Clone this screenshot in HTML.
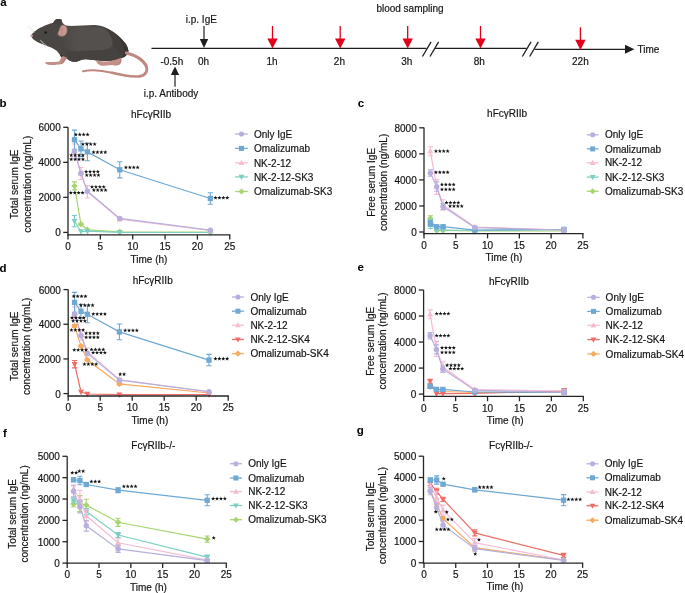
<!DOCTYPE html><html><head><meta charset="utf-8"><style>html,body{margin:0;padding:0;background:#fff;width:685px;height:593px;overflow:hidden}text{font-family:"Liberation Sans", sans-serif}</style></head><body><svg width="685" height="593" viewBox="0 0 685 593" style="display:block;will-change:transform">
<g font-family='"Liberation Sans", sans-serif'>
<path d="M31.2,35.6 C32.5,32.5 38,28.5 45,25.6 C49,24 52,23 54.5,22.6 C54.3,21 55,19.2 57.5,19 C60,18.8 62,19.5 62,21.5 C62.5,23 64,25 67,25.8 C74,26.2 86,25.2 94,25 C102,25.2 110,28.5 118,35.5 C123,40 127.8,45.5 128.4,50.4 C128.6,53.5 126,56 122.4,57.5 C119,59.5 115,60.2 110,60.8 C104,61.3 100,60.5 96.7,60.4 C92,60 88,59 85,59.3 C80,59.8 78,61.8 75.7,61.8 C72,61.8 70,61 68,59.5 C66,58.5 64.5,57.8 62.5,56.8 C60.5,55.8 59,53.5 56.4,50.5 C52,47 45,45.5 38.2,42.4 C34,40.5 31.5,38.5 31.2,35.6Z" fill="#4a4643"/>
<path d="M104,27.5 C112,30 120,37 126,44 C129,49 128.5,54 124,57 C119,60 112,60.8 106,60.6 C100,60 95,58.8 90,58.6 C96,56.5 108,52.5 111.5,49 C113.5,44 113,36 104,27.5Z" fill="#433e3b"/>
<path d="M116,34 C122,39 127.8,45.5 128.4,50.4 C128.6,53.5 126.8,55.6 123,57.8 C125,53 124.5,45 116,34Z" fill="#3a3633"/>
<defs><linearGradient id="lg" x1="0" x2="1" y1="0" y2="0"><stop offset="0" stop-color="#54504d" stop-opacity="0"/><stop offset="0.35" stop-color="#54504d" stop-opacity="1"/></linearGradient></defs>
<path d="M62,27 C80,26.2 96,26 104,28.5 C110,33 113.5,40 112.5,46 C110.5,50.5 104,50.5 96,50.2 C88,50.4 80,51.5 72,51.5 C66,50 62,44 60,36 C59.5,31 60,28 62,27Z" fill="url(#lg)"/>
<path d="M67,51 C76,50.8 88,51.3 97,50.6 C104,50 110,49.5 113.5,45 C116,48 118,53 122.4,57.5 C119,59.5 115,60.2 110,60.8 C104,61.3 100,60.5 96.7,60.4 C92,60 88,59 85,59.3 C80,59.8 78,61.8 75.7,61.8 C72,61.8 70,61 68,59.5 C66.5,56 66.5,53 67,51Z" fill="#46423f"/>
<path d="M60.5,54.5 C62,55.5 64,56.5 65.5,57.6 L63.8,58.6 C62.5,58 61,57 60,55.8Z" fill="#2f2b29"/>
<path d="M52.8,23.2 C54,21 55,19.3 57,19 C59,18.8 61.5,19 61.8,20 C62,21.2 61.2,22.2 60.6,23.2 C60,24 59.5,24.6 58.5,25 Z" fill="#45413f"/>
<path d="M63.2,24.7 C65.7,25 67.5,27 67.4,29.8 C67.3,32.6 66.6,35 64,36.2 C61.5,37.2 58.3,36.2 57.6,34.3 C57.2,32.6 58.9,31 59.3,29.2 C59.7,27 60.9,24.8 63.2,24.7Z" fill="#a97b74"/>
<path d="M63.4,25.4 C65.4,25.8 66.8,27.5 66.7,29.9 C66.6,32.4 66,34.4 63.8,35.4 C61.8,36.2 59.2,35.5 58.6,34 C58.4,32.6 59.8,31.2 60.2,29.5 C60.6,27.4 61.5,25.4 63.4,25.4Z" fill="#c4978f"/>
<path d="M62.2,28 C61.8,30 61.5,32 61.8,33.5" stroke="#a67770" stroke-width="0.5" fill="none"/>
<circle cx="45.7" cy="32.6" r="1.4" fill="#1f1c1b"/>
<circle cx="31.6" cy="35.8" r="1.3" fill="#d0a09a"/>
<path d="M34,33 L27,26.5 M34.5,32.5 L29,25 M40,40 L47,46 M41,40.5 L46,48" stroke="#d9d6d4" stroke-width="0.5" fill="none"/>
<path d="M63.5,56.5 L67.5,57.8 L63.5,63 C62,64.5 59.5,64.6 57.5,64.2 L60,62 Z" fill="#b7857d"/>
<path d="M58.5,54.5 L62.5,56 L59,61.6 C56,62.1 52,62 48,62.1 C46,62.1 44.8,62.6 45.4,63.5 C47,64.6 50,65.2 53,65.1 C56,65 59,64.6 60.8,63 L65,57 Z" fill="#c39087"/>
<path d="M112.5,60.5 C115.5,60 118.5,59 120.8,57.8 C122,59.5 122,62 120,64.2 C118.5,65.5 115.5,65.8 113,65.2 Z" fill="#b7857d"/>
<path d="M96.5,60.5 C99,61 103,61.5 106,61.6 C110,61.3 115,60.8 119.5,59 L120.3,61 C119.5,63.5 117,64.8 113,65 C109,65.3 104,65.6 101.5,65.8 C99.5,65.5 98,64 97,62.8 C96.5,62 96.2,61.2 96.5,60.5Z" fill="#c39087"/>
<path d="M126.5,53 C134,55 142.5,59.5 145.8,65" stroke="#bf8880" stroke-width="3.2" fill="none" stroke-linecap="round"/>
<path d="M145.8,65 C148.2,70 146.3,75 140,76.2" stroke="#bf8880" stroke-width="2.8" fill="none" stroke-linecap="round"/>
<path d="M140,76.2 C132,77.2 122,75.3 112,72.8" stroke="#bf8880" stroke-width="2.5" fill="none" stroke-linecap="round"/>
<path d="M112,72.8 C102,70.3 92,69.3 83,71.3" stroke="#bf8880" stroke-width="2" fill="none" stroke-linecap="round"/>
<path d="M151.5,48.3 H426.5" stroke="#1e1e1e" stroke-width="1.3"/>
<path d="M435.0,48.3 H526.5" stroke="#1e1e1e" stroke-width="1.3"/>
<path d="M534.7,49.3 H626" stroke="#1e1e1e" stroke-width="1.3"/>
<path d="M625.0,44.8 L634.4,49.2 L625.0,53.7Z" fill="#1e1e1e"/>
<path d="M422.5,56.5 L431.1,41.8" stroke="#1e1e1e" stroke-width="1.3"/>
<path d="M430.0,56.5 L438.6,41.8" stroke="#1e1e1e" stroke-width="1.3"/>
<path d="M522.4,56.5 L531.0,41.8" stroke="#1e1e1e" stroke-width="1.3"/>
<path d="M529.7,56.5 L538.3000000000001,41.8" stroke="#1e1e1e" stroke-width="1.3"/>
<path d="M204,26 V40" stroke="#1e1e1e" stroke-width="1.2"/>
<path d="M199.8,39 L208.2,39 L204,48Z" fill="#1e1e1e"/>
<path d="M175,86.8 V74" stroke="#1e1e1e" stroke-width="1.2"/>
<path d="M170.8,75 L179.2,75 L175,66.5Z" fill="#1e1e1e"/>
<path d="M272.5,26 V40" stroke="#e3001b" stroke-width="1.3"/>
<path d="M267.3,38.4 L277.7,38.4 L272.5,48.6Z" fill="#e3001b"/>
<path d="M340.2,26 V40" stroke="#e3001b" stroke-width="1.3"/>
<path d="M335.0,38.4 L345.4,38.4 L340.2,48.6Z" fill="#e3001b"/>
<path d="M407.7,26 V40" stroke="#e3001b" stroke-width="1.3"/>
<path d="M402.5,38.4 L412.9,38.4 L407.7,48.6Z" fill="#e3001b"/>
<path d="M480.5,26 V40" stroke="#e3001b" stroke-width="1.3"/>
<path d="M475.3,38.4 L485.7,38.4 L480.5,48.6Z" fill="#e3001b"/>
<path d="M580.4,27.3 V41.3" stroke="#e3001b" stroke-width="1.3"/>
<path d="M575.1999999999999,39.699999999999996 L585.6,39.699999999999996 L580.4,49.9Z" fill="#e3001b"/>
<text transform="translate(201.30,23.00) scale(1,1.0)" font-size="10" text-anchor="middle" font-weight="normal" fill="#141414" stroke="#141414" stroke-width="0.18">i.p. IgE</text>
<text transform="translate(171.00,96.80) scale(1,1.0)" font-size="10" text-anchor="middle" font-weight="normal" fill="#141414" stroke="#141414" stroke-width="0.18">i.p. Antibody</text>
<text transform="translate(410.00,12.30) scale(1,1.0)" font-size="10" text-anchor="middle" font-weight="normal" fill="#141414" stroke="#141414" stroke-width="0.18">blood sampling</text>
<text transform="translate(648.50,52.80) scale(1,1.0)" font-size="10" text-anchor="middle" font-weight="normal" fill="#141414" stroke="#141414" stroke-width="0.18">Time</text>
<text transform="translate(171.80,65.20) scale(1,1.0)" font-size="10" text-anchor="middle" font-weight="normal" fill="#141414" stroke="#141414" stroke-width="0.18">-0.5h</text>
<text transform="translate(203.60,65.20) scale(1,1.0)" font-size="10" text-anchor="middle" font-weight="normal" fill="#141414" stroke="#141414" stroke-width="0.18">0h</text>
<text transform="translate(272.00,65.20) scale(1,1.0)" font-size="10" text-anchor="middle" font-weight="normal" fill="#141414" stroke="#141414" stroke-width="0.18">1h</text>
<text transform="translate(339.40,65.20) scale(1,1.0)" font-size="10" text-anchor="middle" font-weight="normal" fill="#141414" stroke="#141414" stroke-width="0.18">2h</text>
<text transform="translate(406.80,65.20) scale(1,1.0)" font-size="10" text-anchor="middle" font-weight="normal" fill="#141414" stroke="#141414" stroke-width="0.18">3h</text>
<text transform="translate(479.30,65.20) scale(1,1.0)" font-size="10" text-anchor="middle" font-weight="normal" fill="#141414" stroke="#141414" stroke-width="0.18">8h</text>
<text transform="translate(580.40,65.20) scale(1,1.0)" font-size="10" text-anchor="middle" font-weight="normal" fill="#141414" stroke="#141414" stroke-width="0.18">22h</text>
<text transform="translate(0.30,6.40) scale(1,1.0)" font-size="11.5" text-anchor="start" font-weight="bold" fill="#000" >a</text>
<path d="M74.47,185.90 L80.94,224.30 L87.41,229.80 L119.76,231.80 L210.34,232.20" fill="none" stroke="#a8d470" stroke-width="1.2"/>
<path d="M74.47,181.90 V189.90 M71.87,181.90 H77.07 M71.87,189.90 H77.07" stroke="#a8d470" stroke-width="1.1" fill="none"/>
<path d="M80.94,223.30 V225.30 M78.34,223.30 H83.54 M78.34,225.30 H83.54" stroke="#a8d470" stroke-width="1.1" fill="none"/>
<path d="M74.47,182.70 L77.67,185.90 L74.47,189.10 L71.27,185.90Z" fill="#a8d470"/>
<path d="M80.94,221.10 L84.14,224.30 L80.94,227.50 L77.74,224.30Z" fill="#a8d470"/>
<path d="M87.41,226.60 L90.61,229.80 L87.41,233.00 L84.21,229.80Z" fill="#a8d470"/>
<path d="M119.76,228.60 L122.96,231.80 L119.76,235.00 L116.56,231.80Z" fill="#a8d470"/>
<path d="M210.34,229.00 L213.54,232.20 L210.34,235.40 L207.14,232.20Z" fill="#a8d470"/>
<path d="M74.47,221.10 L80.94,231.50 L87.41,231.20 L119.76,232.30 L210.34,232.50" fill="none" stroke="#7ecfc3" stroke-width="1.2"/>
<path d="M74.47,215.50 V226.70 M71.87,215.50 H77.07 M71.87,226.70 H77.07" stroke="#7ecfc3" stroke-width="1.1" fill="none"/>
<path d="M74.47,224.30 L77.47,218.90 L71.47,218.90Z" fill="#7ecfc3"/>
<path d="M80.94,234.70 L83.94,229.30 L77.94,229.30Z" fill="#7ecfc3"/>
<path d="M87.41,234.40 L90.41,229.00 L84.41,229.00Z" fill="#7ecfc3"/>
<path d="M119.76,235.50 L122.76,230.10 L116.76,230.10Z" fill="#7ecfc3"/>
<path d="M210.34,235.70 L213.34,230.30 L207.34,230.30Z" fill="#7ecfc3"/>
<path d="M74.47,150.50 L80.94,173.50 L87.41,191.80 L119.76,219.20 L210.34,230.50" fill="none" stroke="#f5bcd5" stroke-width="1.2"/>
<path d="M74.47,144.00 V157.00 M71.87,144.00 H77.07 M71.87,157.00 H77.07" stroke="#f5bcd5" stroke-width="1.1" fill="none"/>
<path d="M80.94,167.50 V179.50 M78.34,167.50 H83.54 M78.34,179.50 H83.54" stroke="#f5bcd5" stroke-width="1.1" fill="none"/>
<path d="M87.41,185.60 V198.00 M84.81,185.60 H90.01 M84.81,198.00 H90.01" stroke="#f5bcd5" stroke-width="1.1" fill="none"/>
<path d="M119.76,217.70 V220.70 M117.16,217.70 H122.36 M117.16,220.70 H122.36" stroke="#f5bcd5" stroke-width="1.1" fill="none"/>
<path d="M210.34,229.50 V231.50 M207.74,229.50 H212.94 M207.74,231.50 H212.94" stroke="#f5bcd5" stroke-width="1.1" fill="none"/>
<path d="M74.47,147.30 L77.47,152.70 L71.47,152.70Z" fill="#f5bcd5"/>
<path d="M80.94,170.30 L83.94,175.70 L77.94,175.70Z" fill="#f5bcd5"/>
<path d="M87.41,188.60 L90.41,194.00 L84.41,194.00Z" fill="#f5bcd5"/>
<path d="M119.76,216.00 L122.76,221.40 L116.76,221.40Z" fill="#f5bcd5"/>
<path d="M210.34,227.30 L213.34,232.70 L207.34,232.70Z" fill="#f5bcd5"/>
<path d="M74.47,139.70 L80.94,148.80 L87.41,151.90 L119.76,169.80 L210.34,198.50" fill="none" stroke="#6fa8d3" stroke-width="1.2"/>
<path d="M74.47,130.10 V149.30 M71.87,130.10 H77.07 M71.87,149.30 H77.07" stroke="#6fa8d3" stroke-width="1.1" fill="none"/>
<path d="M80.94,141.00 V156.60 M78.34,141.00 H83.54 M78.34,156.60 H83.54" stroke="#6fa8d3" stroke-width="1.1" fill="none"/>
<path d="M87.41,143.10 V160.70 M84.81,143.10 H90.01 M84.81,160.70 H90.01" stroke="#6fa8d3" stroke-width="1.1" fill="none"/>
<path d="M119.76,161.70 V177.90 M117.16,161.70 H122.36 M117.16,177.90 H122.36" stroke="#6fa8d3" stroke-width="1.1" fill="none"/>
<path d="M210.34,192.70 V204.30 M207.74,192.70 H212.94 M207.74,204.30 H212.94" stroke="#6fa8d3" stroke-width="1.1" fill="none"/>
<rect x="71.82" y="137.05" width="5.30" height="5.30" fill="#6fa8d3"/>
<rect x="78.29" y="146.15" width="5.30" height="5.30" fill="#6fa8d3"/>
<rect x="84.76" y="149.25" width="5.30" height="5.30" fill="#6fa8d3"/>
<rect x="117.11" y="167.15" width="5.30" height="5.30" fill="#6fa8d3"/>
<rect x="207.69" y="195.85" width="5.30" height="5.30" fill="#6fa8d3"/>
<path d="M74.47,151.40 L80.94,173.30 L87.41,191.30 L119.76,218.40 L210.34,230.20" fill="none" stroke="#b8b0dc" stroke-width="1.2"/>
<path d="M74.47,150.40 V152.40 M71.87,150.40 H77.07 M71.87,152.40 H77.07" stroke="#b8b0dc" stroke-width="1.1" fill="none"/>
<path d="M80.94,172.30 V174.30 M78.34,172.30 H83.54 M78.34,174.30 H83.54" stroke="#b8b0dc" stroke-width="1.1" fill="none"/>
<path d="M87.41,190.30 V192.30 M84.81,190.30 H90.01 M84.81,192.30 H90.01" stroke="#b8b0dc" stroke-width="1.1" fill="none"/>
<circle cx="74.47" cy="151.40" r="2.70" fill="#b8b0dc"/>
<circle cx="80.94" cy="173.30" r="2.70" fill="#b8b0dc"/>
<circle cx="87.41" cy="191.30" r="2.70" fill="#b8b0dc"/>
<circle cx="119.76" cy="218.40" r="2.70" fill="#b8b0dc"/>
<circle cx="210.34" cy="230.20" r="2.70" fill="#b8b0dc"/>
<path d="M68.00,127.30 V235.40" stroke="#262626" stroke-width="1.3" fill="none"/>
<path d="M67.40,234.80 H230.35" stroke="#262626" stroke-width="1.3" fill="none"/>
<path d="M63.20,232.40 H68.00" stroke="#262626" stroke-width="1.3"/>
<text transform="translate(60.70,236.30) scale(1,1.0)" font-size="10" text-anchor="end" font-weight="normal" fill="#141414" stroke="#141414" stroke-width="0.18">0</text>
<path d="M63.20,197.37 H68.00" stroke="#262626" stroke-width="1.3"/>
<text transform="translate(60.70,201.27) scale(1,1.0)" font-size="10" text-anchor="end" font-weight="normal" fill="#141414" stroke="#141414" stroke-width="0.18">2000</text>
<path d="M63.20,162.33 H68.00" stroke="#262626" stroke-width="1.3"/>
<text transform="translate(60.70,166.23) scale(1,1.0)" font-size="10" text-anchor="end" font-weight="normal" fill="#141414" stroke="#141414" stroke-width="0.18">4000</text>
<path d="M63.20,127.30 H68.00" stroke="#262626" stroke-width="1.3"/>
<text transform="translate(60.70,131.20) scale(1,1.0)" font-size="10" text-anchor="end" font-weight="normal" fill="#141414" stroke="#141414" stroke-width="0.18">6000</text>
<path d="M68.00,234.80 V239.60" stroke="#262626" stroke-width="1.3"/>
<text transform="translate(68.00,249.60) scale(1,1.0)" font-size="10" text-anchor="middle" font-weight="normal" fill="#141414" stroke="#141414" stroke-width="0.18">0</text>
<path d="M100.35,234.80 V239.60" stroke="#262626" stroke-width="1.3"/>
<text transform="translate(100.35,249.60) scale(1,1.0)" font-size="10" text-anchor="middle" font-weight="normal" fill="#141414" stroke="#141414" stroke-width="0.18">5</text>
<path d="M132.70,234.80 V239.60" stroke="#262626" stroke-width="1.3"/>
<text transform="translate(132.70,249.60) scale(1,1.0)" font-size="10" text-anchor="middle" font-weight="normal" fill="#141414" stroke="#141414" stroke-width="0.18">10</text>
<path d="M165.05,234.80 V239.60" stroke="#262626" stroke-width="1.3"/>
<text transform="translate(165.05,249.60) scale(1,1.0)" font-size="10" text-anchor="middle" font-weight="normal" fill="#141414" stroke="#141414" stroke-width="0.18">15</text>
<path d="M197.40,234.80 V239.60" stroke="#262626" stroke-width="1.3"/>
<text transform="translate(197.40,249.60) scale(1,1.0)" font-size="10" text-anchor="middle" font-weight="normal" fill="#141414" stroke="#141414" stroke-width="0.18">20</text>
<path d="M229.75,234.80 V239.60" stroke="#262626" stroke-width="1.3"/>
<text transform="translate(229.75,249.60) scale(1,1.0)" font-size="10" text-anchor="middle" font-weight="normal" fill="#141414" stroke="#141414" stroke-width="0.18">25</text>
<text transform="translate(149.00,262.80) scale(1,1.0)" font-size="10" text-anchor="middle" font-weight="normal" fill="#141414" stroke="#141414" stroke-width="0.18">Time (h)</text>
<text transform="translate(151.00,118.10) scale(1,1.0)" font-size="10" text-anchor="middle" font-weight="normal" fill="#141414" stroke="#141414" stroke-width="0.18">hFcγRIIb</text>
<text transform="translate(17.90,184.20) rotate(-90) scale(1,1.0)" font-size="10" text-anchor="middle" fill="#141414" stroke="#141414" stroke-width="0.18">Total serum IgE</text>
<text transform="translate(30.70,184.20) rotate(-90) scale(1,1.0)" font-size="10" text-anchor="middle" fill="#141414" stroke="#141414" stroke-width="0.18">concentration (ng/mL)</text>
<path d="M235.20,134.00 H247.80" stroke="#b8b0dc" stroke-width="1.3"/>
<circle cx="241.50" cy="134.00" r="2.56" fill="#b8b0dc"/>
<text transform="translate(253.90,137.60) scale(1,1.0)" font-size="10" text-anchor="start" font-weight="normal" fill="#141414" stroke="#141414" stroke-width="0.18">Only IgE</text>
<path d="M235.20,148.40 H247.80" stroke="#6fa8d3" stroke-width="1.3"/>
<rect x="238.98" y="145.88" width="5.03" height="5.03" fill="#6fa8d3"/>
<text transform="translate(253.90,152.00) scale(1,1.0)" font-size="10" text-anchor="start" font-weight="normal" fill="#141414" stroke="#141414" stroke-width="0.18">Omalizumab</text>
<path d="M235.20,162.90 H247.80" stroke="#f5bcd5" stroke-width="1.3"/>
<path d="M241.50,159.86 L244.35,164.99 L238.65,164.99Z" fill="#f5bcd5"/>
<text transform="translate(253.90,166.50) scale(1,1.0)" font-size="10" text-anchor="start" font-weight="normal" fill="#141414" stroke="#141414" stroke-width="0.18">NK-2-12</text>
<path d="M235.20,176.90 H247.80" stroke="#7ecfc3" stroke-width="1.3"/>
<path d="M241.50,179.94 L244.35,174.81 L238.65,174.81Z" fill="#7ecfc3"/>
<text transform="translate(253.90,180.50) scale(1,1.0)" font-size="10" text-anchor="start" font-weight="normal" fill="#141414" stroke="#141414" stroke-width="0.18">NK-2-12-SK3</text>
<path d="M235.20,191.50 H247.80" stroke="#a8d470" stroke-width="1.3"/>
<path d="M241.50,188.46 L244.54,191.50 L241.50,194.54 L238.46,191.50Z" fill="#a8d470"/>
<text transform="translate(253.90,195.10) scale(1,1.0)" font-size="10" text-anchor="start" font-weight="normal" fill="#141414" stroke="#141414" stroke-width="0.18">Omalizumab-SK3</text>
<path d="M75.85,132.40 L76.39,133.81 L77.89,133.89 L76.72,134.83 L77.11,136.29 L75.85,135.47 L74.59,136.29 L74.98,134.83 L73.81,133.89 L75.31,133.81Z" fill="#111"/>
<path d="M79.75,132.40 L80.29,133.81 L81.79,133.89 L80.62,134.83 L81.01,136.29 L79.75,135.47 L78.49,136.29 L78.88,134.83 L77.71,133.89 L79.21,133.81Z" fill="#111"/>
<path d="M83.65,132.40 L84.19,133.81 L85.69,133.89 L84.52,134.83 L84.91,136.29 L83.65,135.47 L82.39,136.29 L82.78,134.83 L81.61,133.89 L83.11,133.81Z" fill="#111"/>
<path d="M87.55,132.40 L88.09,133.81 L89.59,133.89 L88.42,134.83 L88.81,136.29 L87.55,135.47 L86.29,136.29 L86.68,134.83 L85.51,133.89 L87.01,133.81Z" fill="#111"/>
<path d="M82.95,142.00 L83.49,143.41 L84.99,143.49 L83.82,144.43 L84.21,145.89 L82.95,145.07 L81.69,145.89 L82.08,144.43 L80.91,143.49 L82.41,143.41Z" fill="#111"/>
<path d="M86.85,142.00 L87.39,143.41 L88.89,143.49 L87.72,144.43 L88.11,145.89 L86.85,145.07 L85.59,145.89 L85.98,144.43 L84.81,143.49 L86.31,143.41Z" fill="#111"/>
<path d="M90.75,142.00 L91.29,143.41 L92.79,143.49 L91.62,144.43 L92.01,145.89 L90.75,145.07 L89.49,145.89 L89.88,144.43 L88.71,143.49 L90.21,143.41Z" fill="#111"/>
<path d="M94.65,142.00 L95.19,143.41 L96.69,143.49 L95.52,144.43 L95.91,145.89 L94.65,145.07 L93.39,145.89 L93.78,144.43 L92.61,143.49 L94.11,143.41Z" fill="#111"/>
<path d="M93.55,150.10 L94.09,151.51 L95.59,151.59 L94.42,152.53 L94.81,153.99 L93.55,153.17 L92.29,153.99 L92.68,152.53 L91.51,151.59 L93.01,151.51Z" fill="#111"/>
<path d="M97.45,150.10 L97.99,151.51 L99.49,151.59 L98.32,152.53 L98.71,153.99 L97.45,153.17 L96.19,153.99 L96.58,152.53 L95.41,151.59 L96.91,151.51Z" fill="#111"/>
<path d="M101.35,150.10 L101.89,151.51 L103.39,151.59 L102.22,152.53 L102.61,153.99 L101.35,153.17 L100.09,153.99 L100.48,152.53 L99.31,151.59 L100.81,151.51Z" fill="#111"/>
<path d="M105.25,150.10 L105.79,151.51 L107.29,151.59 L106.12,152.53 L106.51,153.99 L105.25,153.17 L103.99,153.99 L104.38,152.53 L103.21,151.59 L104.71,151.51Z" fill="#111"/>
<path d="M125.95,165.30 L126.49,166.71 L127.99,166.79 L126.82,167.73 L127.21,169.19 L125.95,168.37 L124.69,169.19 L125.08,167.73 L123.91,166.79 L125.41,166.71Z" fill="#111"/>
<path d="M129.85,165.30 L130.39,166.71 L131.89,166.79 L130.72,167.73 L131.11,169.19 L129.85,168.37 L128.59,169.19 L128.98,167.73 L127.81,166.79 L129.31,166.71Z" fill="#111"/>
<path d="M133.75,165.30 L134.29,166.71 L135.79,166.79 L134.62,167.73 L135.01,169.19 L133.75,168.37 L132.49,169.19 L132.88,167.73 L131.71,166.79 L133.21,166.71Z" fill="#111"/>
<path d="M137.65,165.30 L138.19,166.71 L139.69,166.79 L138.52,167.73 L138.91,169.19 L137.65,168.37 L136.39,169.19 L136.78,167.73 L135.61,166.79 L137.11,166.71Z" fill="#111"/>
<path d="M215.55,195.70 L216.09,197.11 L217.59,197.19 L216.42,198.13 L216.81,199.59 L215.55,198.77 L214.29,199.59 L214.68,198.13 L213.51,197.19 L215.01,197.11Z" fill="#111"/>
<path d="M219.45,195.70 L219.99,197.11 L221.49,197.19 L220.32,198.13 L220.71,199.59 L219.45,198.77 L218.19,199.59 L218.58,198.13 L217.41,197.19 L218.91,197.11Z" fill="#111"/>
<path d="M223.35,195.70 L223.89,197.11 L225.39,197.19 L224.22,198.13 L224.61,199.59 L223.35,198.77 L222.09,199.59 L222.48,198.13 L221.31,197.19 L222.81,197.11Z" fill="#111"/>
<path d="M227.25,195.70 L227.79,197.11 L229.29,197.19 L228.12,198.13 L228.51,199.59 L227.25,198.77 L225.99,199.59 L226.38,198.13 L225.21,197.19 L226.71,197.11Z" fill="#111"/>
<path d="M71.25,153.10 L71.79,154.51 L73.29,154.59 L72.12,155.53 L72.51,156.99 L71.25,156.17 L69.99,156.99 L70.38,155.53 L69.21,154.59 L70.71,154.51Z" fill="#111"/>
<path d="M75.15,153.10 L75.69,154.51 L77.19,154.59 L76.02,155.53 L76.41,156.99 L75.15,156.17 L73.89,156.99 L74.28,155.53 L73.11,154.59 L74.61,154.51Z" fill="#111"/>
<path d="M79.05,153.10 L79.59,154.51 L81.09,154.59 L79.92,155.53 L80.31,156.99 L79.05,156.17 L77.79,156.99 L78.18,155.53 L77.01,154.59 L78.51,154.51Z" fill="#111"/>
<path d="M82.95,153.10 L83.49,154.51 L84.99,154.59 L83.82,155.53 L84.21,156.99 L82.95,156.17 L81.69,156.99 L82.08,155.53 L80.91,154.59 L82.41,154.51Z" fill="#111"/>
<path d="M71.25,157.20 L71.79,158.61 L73.29,158.69 L72.12,159.63 L72.51,161.09 L71.25,160.27 L69.99,161.09 L70.38,159.63 L69.21,158.69 L70.71,158.61Z" fill="#111"/>
<path d="M75.15,157.20 L75.69,158.61 L77.19,158.69 L76.02,159.63 L76.41,161.09 L75.15,160.27 L73.89,161.09 L74.28,159.63 L73.11,158.69 L74.61,158.61Z" fill="#111"/>
<path d="M79.05,157.20 L79.59,158.61 L81.09,158.69 L79.92,159.63 L80.31,161.09 L79.05,160.27 L77.79,161.09 L78.18,159.63 L77.01,158.69 L78.51,158.61Z" fill="#111"/>
<path d="M82.95,157.20 L83.49,158.61 L84.99,158.69 L83.82,159.63 L84.21,161.09 L82.95,160.27 L81.69,161.09 L82.08,159.63 L80.91,158.69 L82.41,158.61Z" fill="#111"/>
<path d="M86.15,169.50 L86.69,170.91 L88.19,170.99 L87.02,171.93 L87.41,173.39 L86.15,172.57 L84.89,173.39 L85.28,171.93 L84.11,170.99 L85.61,170.91Z" fill="#111"/>
<path d="M90.05,169.50 L90.59,170.91 L92.09,170.99 L90.92,171.93 L91.31,173.39 L90.05,172.57 L88.79,173.39 L89.18,171.93 L88.01,170.99 L89.51,170.91Z" fill="#111"/>
<path d="M93.95,169.50 L94.49,170.91 L95.99,170.99 L94.82,171.93 L95.21,173.39 L93.95,172.57 L92.69,173.39 L93.08,171.93 L91.91,170.99 L93.41,170.91Z" fill="#111"/>
<path d="M97.85,169.50 L98.39,170.91 L99.89,170.99 L98.72,171.93 L99.11,173.39 L97.85,172.57 L96.59,173.39 L96.98,171.93 L95.81,170.99 L97.31,170.91Z" fill="#111"/>
<path d="M86.75,173.00 L87.29,174.41 L88.79,174.49 L87.62,175.43 L88.01,176.89 L86.75,176.07 L85.49,176.89 L85.88,175.43 L84.71,174.49 L86.21,174.41Z" fill="#111"/>
<path d="M90.65,173.00 L91.19,174.41 L92.69,174.49 L91.52,175.43 L91.91,176.89 L90.65,176.07 L89.39,176.89 L89.78,175.43 L88.61,174.49 L90.11,174.41Z" fill="#111"/>
<path d="M94.55,173.00 L95.09,174.41 L96.59,174.49 L95.42,175.43 L95.81,176.89 L94.55,176.07 L93.29,176.89 L93.68,175.43 L92.51,174.49 L94.01,174.41Z" fill="#111"/>
<path d="M98.45,173.00 L98.99,174.41 L100.49,174.49 L99.32,175.43 L99.71,176.89 L98.45,176.07 L97.19,176.89 L97.58,175.43 L96.41,174.49 L97.91,174.41Z" fill="#111"/>
<path d="M92.05,184.80 L92.59,186.21 L94.09,186.29 L92.92,187.23 L93.31,188.69 L92.05,187.87 L90.79,188.69 L91.18,187.23 L90.01,186.29 L91.51,186.21Z" fill="#111"/>
<path d="M95.95,184.80 L96.49,186.21 L97.99,186.29 L96.82,187.23 L97.21,188.69 L95.95,187.87 L94.69,188.69 L95.08,187.23 L93.91,186.29 L95.41,186.21Z" fill="#111"/>
<path d="M99.85,184.80 L100.39,186.21 L101.89,186.29 L100.72,187.23 L101.11,188.69 L99.85,187.87 L98.59,188.69 L98.98,187.23 L97.81,186.29 L99.31,186.21Z" fill="#111"/>
<path d="M103.75,184.80 L104.29,186.21 L105.79,186.29 L104.62,187.23 L105.01,188.69 L103.75,187.87 L102.49,188.69 L102.88,187.23 L101.71,186.29 L103.21,186.21Z" fill="#111"/>
<path d="M93.85,188.00 L94.39,189.41 L95.89,189.49 L94.72,190.43 L95.11,191.89 L93.85,191.07 L92.59,191.89 L92.98,190.43 L91.81,189.49 L93.31,189.41Z" fill="#111"/>
<path d="M97.75,188.00 L98.29,189.41 L99.79,189.49 L98.62,190.43 L99.01,191.89 L97.75,191.07 L96.49,191.89 L96.88,190.43 L95.71,189.49 L97.21,189.41Z" fill="#111"/>
<path d="M101.65,188.00 L102.19,189.41 L103.69,189.49 L102.52,190.43 L102.91,191.89 L101.65,191.07 L100.39,191.89 L100.78,190.43 L99.61,189.49 L101.11,189.41Z" fill="#111"/>
<path d="M105.55,188.00 L106.09,189.41 L107.59,189.49 L106.42,190.43 L106.81,191.89 L105.55,191.07 L104.29,191.89 L104.68,190.43 L103.51,189.49 L105.01,189.41Z" fill="#111"/>
<path d="M70.85,190.70 L71.39,192.11 L72.89,192.19 L71.72,193.13 L72.11,194.59 L70.85,193.77 L69.59,194.59 L69.98,193.13 L68.81,192.19 L70.31,192.11Z" fill="#111"/>
<path d="M74.75,190.70 L75.29,192.11 L76.79,192.19 L75.62,193.13 L76.01,194.59 L74.75,193.77 L73.49,194.59 L73.88,193.13 L72.71,192.19 L74.21,192.11Z" fill="#111"/>
<path d="M78.65,190.70 L79.19,192.11 L80.69,192.19 L79.52,193.13 L79.91,194.59 L78.65,193.77 L77.39,194.59 L77.78,193.13 L76.61,192.19 L78.11,192.11Z" fill="#111"/>
<path d="M82.55,190.70 L83.09,192.11 L84.59,192.19 L83.42,193.13 L83.81,194.59 L82.55,193.77 L81.29,194.59 L81.68,193.13 L80.51,192.19 L82.01,192.11Z" fill="#111"/>
<text transform="translate(-0.60,106.80) scale(1,1.0)" font-size="11.5" text-anchor="start" font-weight="bold" fill="#000" >b</text>
<path d="M430.36,218.50 L436.71,230.40 L443.07,230.40 L474.85,231.00 L563.83,231.00" fill="none" stroke="#a8d470" stroke-width="1.2"/>
<path d="M430.36,215.70 V221.30 M427.76,215.70 H432.96 M427.76,221.30 H432.96" stroke="#a8d470" stroke-width="1.1" fill="none"/>
<path d="M430.36,215.30 L433.56,218.50 L430.36,221.70 L427.16,218.50Z" fill="#a8d470"/>
<path d="M436.71,227.20 L439.91,230.40 L436.71,233.60 L433.51,230.40Z" fill="#a8d470"/>
<path d="M443.07,227.20 L446.27,230.40 L443.07,233.60 L439.87,230.40Z" fill="#a8d470"/>
<path d="M474.85,227.80 L478.05,231.00 L474.85,234.20 L471.65,231.00Z" fill="#a8d470"/>
<path d="M563.83,227.80 L567.03,231.00 L563.83,234.20 L560.63,231.00Z" fill="#a8d470"/>
<path d="M430.36,224.00 L436.71,230.00 L443.07,230.00 L474.85,230.50 L563.83,229.50" fill="none" stroke="#7ecfc3" stroke-width="1.2"/>
<path d="M430.36,219.50 V228.50 M427.76,219.50 H432.96 M427.76,228.50 H432.96" stroke="#7ecfc3" stroke-width="1.1" fill="none"/>
<path d="M563.83,227.30 V231.70 M561.23,227.30 H566.43 M561.23,231.70 H566.43" stroke="#7ecfc3" stroke-width="1.1" fill="none"/>
<path d="M430.36,227.20 L433.36,221.80 L427.36,221.80Z" fill="#7ecfc3"/>
<path d="M436.71,233.20 L439.71,227.80 L433.71,227.80Z" fill="#7ecfc3"/>
<path d="M443.07,233.20 L446.07,227.80 L440.07,227.80Z" fill="#7ecfc3"/>
<path d="M474.85,233.70 L477.85,228.30 L471.85,228.30Z" fill="#7ecfc3"/>
<path d="M563.83,232.70 L566.83,227.30 L560.83,227.30Z" fill="#7ecfc3"/>
<path d="M430.36,151.30 L436.71,187.00 L443.07,205.00 L474.85,227.00 L563.83,230.00" fill="none" stroke="#f5bcd5" stroke-width="1.2"/>
<path d="M430.36,146.80 V155.80 M427.76,146.80 H432.96 M427.76,155.80 H432.96" stroke="#f5bcd5" stroke-width="1.1" fill="none"/>
<path d="M436.71,179.60 V194.40 M434.11,179.60 H439.31 M434.11,194.40 H439.31" stroke="#f5bcd5" stroke-width="1.1" fill="none"/>
<path d="M443.07,199.70 V210.30 M440.47,199.70 H445.67 M440.47,210.30 H445.67" stroke="#f5bcd5" stroke-width="1.1" fill="none"/>
<path d="M474.85,226.00 V228.00 M472.25,226.00 H477.45 M472.25,228.00 H477.45" stroke="#f5bcd5" stroke-width="1.1" fill="none"/>
<path d="M563.83,229.00 V231.00 M561.23,229.00 H566.43 M561.23,231.00 H566.43" stroke="#f5bcd5" stroke-width="1.1" fill="none"/>
<path d="M430.36,148.10 L433.36,153.50 L427.36,153.50Z" fill="#f5bcd5"/>
<path d="M436.71,183.80 L439.71,189.20 L433.71,189.20Z" fill="#f5bcd5"/>
<path d="M443.07,201.80 L446.07,207.20 L440.07,207.20Z" fill="#f5bcd5"/>
<path d="M474.85,223.80 L477.85,229.20 L471.85,229.20Z" fill="#f5bcd5"/>
<path d="M563.83,226.80 L566.83,232.20 L560.83,232.20Z" fill="#f5bcd5"/>
<path d="M430.36,223.50 L436.71,226.70 L443.07,226.70 L474.85,230.10 L563.83,229.50" fill="none" stroke="#6fa8d3" stroke-width="1.2"/>
<path d="M430.36,220.50 V226.50 M427.76,220.50 H432.96 M427.76,226.50 H432.96" stroke="#6fa8d3" stroke-width="1.1" fill="none"/>
<path d="M436.71,225.70 V227.70 M434.11,225.70 H439.31 M434.11,227.70 H439.31" stroke="#6fa8d3" stroke-width="1.1" fill="none"/>
<path d="M443.07,225.70 V227.70 M440.47,225.70 H445.67 M440.47,227.70 H445.67" stroke="#6fa8d3" stroke-width="1.1" fill="none"/>
<path d="M563.83,228.50 V230.50 M561.23,228.50 H566.43 M561.23,230.50 H566.43" stroke="#6fa8d3" stroke-width="1.1" fill="none"/>
<rect x="427.71" y="220.85" width="5.30" height="5.30" fill="#6fa8d3"/>
<rect x="434.06" y="224.05" width="5.30" height="5.30" fill="#6fa8d3"/>
<rect x="440.42" y="224.05" width="5.30" height="5.30" fill="#6fa8d3"/>
<rect x="472.20" y="227.45" width="5.30" height="5.30" fill="#6fa8d3"/>
<rect x="561.18" y="226.85" width="5.30" height="5.30" fill="#6fa8d3"/>
<path d="M430.36,173.10 L436.71,186.60 L443.07,206.50 L474.85,227.60 L563.83,230.00" fill="none" stroke="#b8b0dc" stroke-width="1.2"/>
<path d="M430.36,169.90 V176.30 M427.76,169.90 H432.96 M427.76,176.30 H432.96" stroke="#b8b0dc" stroke-width="1.1" fill="none"/>
<path d="M436.71,181.90 V191.30 M434.11,181.90 H439.31 M434.11,191.30 H439.31" stroke="#b8b0dc" stroke-width="1.1" fill="none"/>
<path d="M443.07,203.50 V209.50 M440.47,203.50 H445.67 M440.47,209.50 H445.67" stroke="#b8b0dc" stroke-width="1.1" fill="none"/>
<path d="M474.85,226.60 V228.60 M472.25,226.60 H477.45 M472.25,228.60 H477.45" stroke="#b8b0dc" stroke-width="1.1" fill="none"/>
<path d="M563.83,227.50 V232.50 M561.23,227.50 H566.43 M561.23,232.50 H566.43" stroke="#b8b0dc" stroke-width="1.1" fill="none"/>
<circle cx="430.36" cy="173.10" r="2.70" fill="#b8b0dc"/>
<circle cx="436.71" cy="186.60" r="2.70" fill="#b8b0dc"/>
<circle cx="443.07" cy="206.50" r="2.70" fill="#b8b0dc"/>
<circle cx="474.85" cy="227.60" r="2.70" fill="#b8b0dc"/>
<circle cx="563.83" cy="230.00" r="2.70" fill="#b8b0dc"/>
<path d="M424.00,127.60 V234.20" stroke="#262626" stroke-width="1.3" fill="none"/>
<path d="M423.40,233.60 H583.50" stroke="#262626" stroke-width="1.3" fill="none"/>
<path d="M419.20,232.00 H424.00" stroke="#262626" stroke-width="1.3"/>
<text transform="translate(416.70,236.10) scale(1,1.0)" font-size="10" text-anchor="end" font-weight="normal" fill="#141414" stroke="#141414" stroke-width="0.18">0</text>
<path d="M419.20,205.95 H424.00" stroke="#262626" stroke-width="1.3"/>
<text transform="translate(416.70,210.05) scale(1,1.0)" font-size="10" text-anchor="end" font-weight="normal" fill="#141414" stroke="#141414" stroke-width="0.18">2000</text>
<path d="M419.20,179.90 H424.00" stroke="#262626" stroke-width="1.3"/>
<text transform="translate(416.70,184.00) scale(1,1.0)" font-size="10" text-anchor="end" font-weight="normal" fill="#141414" stroke="#141414" stroke-width="0.18">4000</text>
<path d="M419.20,153.85 H424.00" stroke="#262626" stroke-width="1.3"/>
<text transform="translate(416.70,157.95) scale(1,1.0)" font-size="10" text-anchor="end" font-weight="normal" fill="#141414" stroke="#141414" stroke-width="0.18">6000</text>
<path d="M419.20,127.80 H424.00" stroke="#262626" stroke-width="1.3"/>
<text transform="translate(416.70,131.90) scale(1,1.0)" font-size="10" text-anchor="end" font-weight="normal" fill="#141414" stroke="#141414" stroke-width="0.18">8000</text>
<path d="M424.00,233.60 V238.40" stroke="#262626" stroke-width="1.3"/>
<text transform="translate(424.00,248.60) scale(1,1.0)" font-size="10" text-anchor="middle" font-weight="normal" fill="#141414" stroke="#141414" stroke-width="0.18">0</text>
<path d="M455.78,233.60 V238.40" stroke="#262626" stroke-width="1.3"/>
<text transform="translate(455.78,248.60) scale(1,1.0)" font-size="10" text-anchor="middle" font-weight="normal" fill="#141414" stroke="#141414" stroke-width="0.18">5</text>
<path d="M487.56,233.60 V238.40" stroke="#262626" stroke-width="1.3"/>
<text transform="translate(487.56,248.60) scale(1,1.0)" font-size="10" text-anchor="middle" font-weight="normal" fill="#141414" stroke="#141414" stroke-width="0.18">10</text>
<path d="M519.34,233.60 V238.40" stroke="#262626" stroke-width="1.3"/>
<text transform="translate(519.34,248.60) scale(1,1.0)" font-size="10" text-anchor="middle" font-weight="normal" fill="#141414" stroke="#141414" stroke-width="0.18">15</text>
<path d="M551.12,233.60 V238.40" stroke="#262626" stroke-width="1.3"/>
<text transform="translate(551.12,248.60) scale(1,1.0)" font-size="10" text-anchor="middle" font-weight="normal" fill="#141414" stroke="#141414" stroke-width="0.18">20</text>
<path d="M582.90,233.60 V238.40" stroke="#262626" stroke-width="1.3"/>
<text transform="translate(582.90,248.60) scale(1,1.0)" font-size="10" text-anchor="middle" font-weight="normal" fill="#141414" stroke="#141414" stroke-width="0.18">25</text>
<text transform="translate(504.00,261.10) scale(1,1.0)" font-size="10" text-anchor="middle" font-weight="normal" fill="#141414" stroke="#141414" stroke-width="0.18">Time (h)</text>
<text transform="translate(507.10,117.20) scale(1,1.0)" font-size="10" text-anchor="middle" font-weight="normal" fill="#141414" stroke="#141414" stroke-width="0.18">hFcγRIIb</text>
<text transform="translate(374.55,182.40) rotate(-90) scale(1,1.0)" font-size="10" text-anchor="middle" fill="#141414" stroke="#141414" stroke-width="0.18">Free serum IgE</text>
<text transform="translate(387.40,182.40) rotate(-90) scale(1,1.0)" font-size="10" text-anchor="middle" fill="#141414" stroke="#141414" stroke-width="0.18">concentration (ng/mL)</text>
<path d="M586.80,134.80 H598.50" stroke="#b8b0dc" stroke-width="1.3"/>
<circle cx="592.65" cy="134.80" r="2.56" fill="#b8b0dc"/>
<text transform="translate(604.90,138.40) scale(1,1.0)" font-size="10" text-anchor="start" font-weight="normal" fill="#141414" stroke="#141414" stroke-width="0.18">Only IgE</text>
<path d="M586.80,148.90 H598.50" stroke="#6fa8d3" stroke-width="1.3"/>
<rect x="590.13" y="146.38" width="5.03" height="5.03" fill="#6fa8d3"/>
<text transform="translate(604.90,152.50) scale(1,1.0)" font-size="10" text-anchor="start" font-weight="normal" fill="#141414" stroke="#141414" stroke-width="0.18">Omalizumab</text>
<path d="M586.80,162.80 H598.50" stroke="#f5bcd5" stroke-width="1.3"/>
<path d="M592.65,159.76 L595.50,164.89 L589.80,164.89Z" fill="#f5bcd5"/>
<text transform="translate(604.90,166.40) scale(1,1.0)" font-size="10" text-anchor="start" font-weight="normal" fill="#141414" stroke="#141414" stroke-width="0.18">NK-2-12</text>
<path d="M586.80,177.10 H598.50" stroke="#7ecfc3" stroke-width="1.3"/>
<path d="M592.65,180.14 L595.50,175.01 L589.80,175.01Z" fill="#7ecfc3"/>
<text transform="translate(604.90,180.70) scale(1,1.0)" font-size="10" text-anchor="start" font-weight="normal" fill="#141414" stroke="#141414" stroke-width="0.18">NK-2-12-SK3</text>
<path d="M586.80,191.30 H598.50" stroke="#a8d470" stroke-width="1.3"/>
<path d="M592.65,188.26 L595.69,191.30 L592.65,194.34 L589.61,191.30Z" fill="#a8d470"/>
<text transform="translate(604.90,194.90) scale(1,1.0)" font-size="10" text-anchor="start" font-weight="normal" fill="#141414" stroke="#141414" stroke-width="0.18">Omalizumab-SK3</text>
<path d="M435.95,149.00 L436.49,150.41 L437.99,150.49 L436.82,151.43 L437.21,152.89 L435.95,152.07 L434.69,152.89 L435.08,151.43 L433.91,150.49 L435.41,150.41Z" fill="#111"/>
<path d="M439.85,149.00 L440.39,150.41 L441.89,150.49 L440.72,151.43 L441.11,152.89 L439.85,152.07 L438.59,152.89 L438.98,151.43 L437.81,150.49 L439.31,150.41Z" fill="#111"/>
<path d="M443.75,149.00 L444.29,150.41 L445.79,150.49 L444.62,151.43 L445.01,152.89 L443.75,152.07 L442.49,152.89 L442.88,151.43 L441.71,150.49 L443.21,150.41Z" fill="#111"/>
<path d="M447.65,149.00 L448.19,150.41 L449.69,150.49 L448.52,151.43 L448.91,152.89 L447.65,152.07 L446.39,152.89 L446.78,151.43 L445.61,150.49 L447.11,150.41Z" fill="#111"/>
<path d="M435.95,170.20 L436.49,171.61 L437.99,171.69 L436.82,172.63 L437.21,174.09 L435.95,173.27 L434.69,174.09 L435.08,172.63 L433.91,171.69 L435.41,171.61Z" fill="#111"/>
<path d="M439.85,170.20 L440.39,171.61 L441.89,171.69 L440.72,172.63 L441.11,174.09 L439.85,173.27 L438.59,174.09 L438.98,172.63 L437.81,171.69 L439.31,171.61Z" fill="#111"/>
<path d="M443.75,170.20 L444.29,171.61 L445.79,171.69 L444.62,172.63 L445.01,174.09 L443.75,173.27 L442.49,174.09 L442.88,172.63 L441.71,171.69 L443.21,171.61Z" fill="#111"/>
<path d="M447.65,170.20 L448.19,171.61 L449.69,171.69 L448.52,172.63 L448.91,174.09 L447.65,173.27 L446.39,174.09 L446.78,172.63 L445.61,171.69 L447.11,171.61Z" fill="#111"/>
<path d="M441.95,182.40 L442.49,183.81 L443.99,183.89 L442.82,184.83 L443.21,186.29 L441.95,185.47 L440.69,186.29 L441.08,184.83 L439.91,183.89 L441.41,183.81Z" fill="#111"/>
<path d="M445.85,182.40 L446.39,183.81 L447.89,183.89 L446.72,184.83 L447.11,186.29 L445.85,185.47 L444.59,186.29 L444.98,184.83 L443.81,183.89 L445.31,183.81Z" fill="#111"/>
<path d="M449.75,182.40 L450.29,183.81 L451.79,183.89 L450.62,184.83 L451.01,186.29 L449.75,185.47 L448.49,186.29 L448.88,184.83 L447.71,183.89 L449.21,183.81Z" fill="#111"/>
<path d="M453.65,182.40 L454.19,183.81 L455.69,183.89 L454.52,184.83 L454.91,186.29 L453.65,185.47 L452.39,186.29 L452.78,184.83 L451.61,183.89 L453.11,183.81Z" fill="#111"/>
<path d="M441.95,187.30 L442.49,188.71 L443.99,188.79 L442.82,189.73 L443.21,191.19 L441.95,190.37 L440.69,191.19 L441.08,189.73 L439.91,188.79 L441.41,188.71Z" fill="#111"/>
<path d="M445.85,187.30 L446.39,188.71 L447.89,188.79 L446.72,189.73 L447.11,191.19 L445.85,190.37 L444.59,191.19 L444.98,189.73 L443.81,188.79 L445.31,188.71Z" fill="#111"/>
<path d="M449.75,187.30 L450.29,188.71 L451.79,188.79 L450.62,189.73 L451.01,191.19 L449.75,190.37 L448.49,191.19 L448.88,189.73 L447.71,188.79 L449.21,188.71Z" fill="#111"/>
<path d="M453.65,187.30 L454.19,188.71 L455.69,188.79 L454.52,189.73 L454.91,191.19 L453.65,190.37 L452.39,191.19 L452.78,189.73 L451.61,188.79 L453.11,188.71Z" fill="#111"/>
<path d="M446.55,200.50 L447.09,201.91 L448.59,201.99 L447.42,202.93 L447.81,204.39 L446.55,203.57 L445.29,204.39 L445.68,202.93 L444.51,201.99 L446.01,201.91Z" fill="#111"/>
<path d="M450.45,200.50 L450.99,201.91 L452.49,201.99 L451.32,202.93 L451.71,204.39 L450.45,203.57 L449.19,204.39 L449.58,202.93 L448.41,201.99 L449.91,201.91Z" fill="#111"/>
<path d="M454.35,200.50 L454.89,201.91 L456.39,201.99 L455.22,202.93 L455.61,204.39 L454.35,203.57 L453.09,204.39 L453.48,202.93 L452.31,201.99 L453.81,201.91Z" fill="#111"/>
<path d="M458.25,200.50 L458.79,201.91 L460.29,201.99 L459.12,202.93 L459.51,204.39 L458.25,203.57 L456.99,204.39 L457.38,202.93 L456.21,201.99 L457.71,201.91Z" fill="#111"/>
<path d="M450.05,204.00 L450.59,205.41 L452.09,205.49 L450.92,206.43 L451.31,207.89 L450.05,207.07 L448.79,207.89 L449.18,206.43 L448.01,205.49 L449.51,205.41Z" fill="#111"/>
<path d="M453.95,204.00 L454.49,205.41 L455.99,205.49 L454.82,206.43 L455.21,207.89 L453.95,207.07 L452.69,207.89 L453.08,206.43 L451.91,205.49 L453.41,205.41Z" fill="#111"/>
<path d="M457.85,204.00 L458.39,205.41 L459.89,205.49 L458.72,206.43 L459.11,207.89 L457.85,207.07 L456.59,207.89 L456.98,206.43 L455.81,205.49 L457.31,205.41Z" fill="#111"/>
<path d="M461.75,204.00 L462.29,205.41 L463.79,205.49 L462.62,206.43 L463.01,207.89 L461.75,207.07 L460.49,207.89 L460.88,206.43 L459.71,205.49 L461.21,205.41Z" fill="#111"/>
<text transform="translate(357.80,107.00) scale(1,1.0)" font-size="11.5" text-anchor="start" font-weight="bold" fill="#000" >c</text>
<path d="M74.60,326.00 L81.00,346.10 L87.40,360.00 L119.40,383.90 L209.00,393.00" fill="none" stroke="#f7a95e" stroke-width="1.2"/>
<path d="M74.60,324.50 V327.50 M72.00,324.50 H77.20 M72.00,327.50 H77.20" stroke="#f7a95e" stroke-width="1.1" fill="none"/>
<path d="M81.00,345.10 V347.10 M78.40,345.10 H83.60 M78.40,347.10 H83.60" stroke="#f7a95e" stroke-width="1.1" fill="none"/>
<path d="M87.40,359.00 V361.00 M84.80,359.00 H90.00 M84.80,361.00 H90.00" stroke="#f7a95e" stroke-width="1.1" fill="none"/>
<path d="M119.40,382.90 V384.90 M116.80,382.90 H122.00 M116.80,384.90 H122.00" stroke="#f7a95e" stroke-width="1.1" fill="none"/>
<path d="M74.60,322.80 L77.80,326.00 L74.60,329.20 L71.40,326.00Z" fill="#f7a95e"/>
<path d="M81.00,342.90 L84.20,346.10 L81.00,349.30 L77.80,346.10Z" fill="#f7a95e"/>
<path d="M87.40,356.80 L90.60,360.00 L87.40,363.20 L84.20,360.00Z" fill="#f7a95e"/>
<path d="M119.40,380.70 L122.60,383.90 L119.40,387.10 L116.20,383.90Z" fill="#f7a95e"/>
<path d="M209.00,389.80 L212.20,393.00 L209.00,396.20 L205.80,393.00Z" fill="#f7a95e"/>
<path d="M74.60,364.20 L81.00,392.00 L87.40,394.00 L119.40,394.70 L209.00,394.50" fill="none" stroke="#ef6d66" stroke-width="1.2"/>
<path d="M74.60,360.50 V367.90 M72.00,360.50 H77.20 M72.00,367.90 H77.20" stroke="#ef6d66" stroke-width="1.1" fill="none"/>
<path d="M74.60,367.40 L77.60,362.00 L71.60,362.00Z" fill="#ef6d66"/>
<path d="M81.00,395.20 L84.00,389.80 L78.00,389.80Z" fill="#ef6d66"/>
<path d="M87.40,397.20 L90.40,391.80 L84.40,391.80Z" fill="#ef6d66"/>
<path d="M119.40,397.90 L122.40,392.50 L116.40,392.50Z" fill="#ef6d66"/>
<path d="M209.00,397.70 L212.00,392.30 L206.00,392.30Z" fill="#ef6d66"/>
<path d="M74.60,313.00 L81.00,335.00 L87.40,352.00 L119.40,379.50 L209.00,392.00" fill="none" stroke="#f5bcd5" stroke-width="1.2"/>
<path d="M74.60,307.00 V319.00 M72.00,307.00 H77.20 M72.00,319.00 H77.20" stroke="#f5bcd5" stroke-width="1.1" fill="none"/>
<path d="M81.00,330.00 V340.00 M78.40,330.00 H83.60 M78.40,340.00 H83.60" stroke="#f5bcd5" stroke-width="1.1" fill="none"/>
<path d="M87.40,348.00 V356.00 M84.80,348.00 H90.00 M84.80,356.00 H90.00" stroke="#f5bcd5" stroke-width="1.1" fill="none"/>
<path d="M119.40,378.00 V381.00 M116.80,378.00 H122.00 M116.80,381.00 H122.00" stroke="#f5bcd5" stroke-width="1.1" fill="none"/>
<path d="M74.60,309.80 L77.60,315.20 L71.60,315.20Z" fill="#f5bcd5"/>
<path d="M81.00,331.80 L84.00,337.20 L78.00,337.20Z" fill="#f5bcd5"/>
<path d="M87.40,348.80 L90.40,354.20 L84.40,354.20Z" fill="#f5bcd5"/>
<path d="M119.40,376.30 L122.40,381.70 L116.40,381.70Z" fill="#f5bcd5"/>
<path d="M209.00,388.80 L212.00,394.20 L206.00,394.20Z" fill="#f5bcd5"/>
<path d="M74.60,302.40 L81.00,311.30 L87.40,314.20 L119.40,331.90 L209.00,360.10" fill="none" stroke="#6fa8d3" stroke-width="1.2"/>
<path d="M74.60,292.40 V312.40 M72.00,292.40 H77.20 M72.00,312.40 H77.20" stroke="#6fa8d3" stroke-width="1.1" fill="none"/>
<path d="M81.00,304.20 V318.40 M78.40,304.20 H83.60 M78.40,318.40 H83.60" stroke="#6fa8d3" stroke-width="1.1" fill="none"/>
<path d="M87.40,305.70 V322.70 M84.80,305.70 H90.00 M84.80,322.70 H90.00" stroke="#6fa8d3" stroke-width="1.1" fill="none"/>
<path d="M119.40,324.00 V339.80 M116.80,324.00 H122.00 M116.80,339.80 H122.00" stroke="#6fa8d3" stroke-width="1.1" fill="none"/>
<path d="M209.00,354.40 V365.80 M206.40,354.40 H211.60 M206.40,365.80 H211.60" stroke="#6fa8d3" stroke-width="1.1" fill="none"/>
<rect x="71.95" y="299.75" width="5.30" height="5.30" fill="#6fa8d3"/>
<rect x="78.35" y="308.65" width="5.30" height="5.30" fill="#6fa8d3"/>
<rect x="84.75" y="311.55" width="5.30" height="5.30" fill="#6fa8d3"/>
<rect x="116.75" y="329.25" width="5.30" height="5.30" fill="#6fa8d3"/>
<rect x="206.35" y="357.45" width="5.30" height="5.30" fill="#6fa8d3"/>
<path d="M74.60,314.20 L81.00,335.50 L87.40,353.20 L119.40,380.20 L209.00,391.70" fill="none" stroke="#b8b0dc" stroke-width="1.2"/>
<path d="M74.60,313.20 V315.20 M72.00,313.20 H77.20 M72.00,315.20 H77.20" stroke="#b8b0dc" stroke-width="1.1" fill="none"/>
<path d="M81.00,334.50 V336.50 M78.40,334.50 H83.60 M78.40,336.50 H83.60" stroke="#b8b0dc" stroke-width="1.1" fill="none"/>
<path d="M87.40,352.20 V354.20 M84.80,352.20 H90.00 M84.80,354.20 H90.00" stroke="#b8b0dc" stroke-width="1.1" fill="none"/>
<path d="M119.40,379.20 V381.20 M116.80,379.20 H122.00 M116.80,381.20 H122.00" stroke="#b8b0dc" stroke-width="1.1" fill="none"/>
<circle cx="74.60" cy="314.20" r="2.70" fill="#b8b0dc"/>
<circle cx="81.00" cy="335.50" r="2.70" fill="#b8b0dc"/>
<circle cx="87.40" cy="353.20" r="2.70" fill="#b8b0dc"/>
<circle cx="119.40" cy="380.20" r="2.70" fill="#b8b0dc"/>
<circle cx="209.00" cy="391.70" r="2.70" fill="#b8b0dc"/>
<path d="M68.20,289.60 V396.60" stroke="#262626" stroke-width="1.3" fill="none"/>
<path d="M67.60,396.00 H228.80" stroke="#262626" stroke-width="1.3" fill="none"/>
<path d="M63.40,393.60 H68.20" stroke="#262626" stroke-width="1.3"/>
<text transform="translate(60.90,397.50) scale(1,1.0)" font-size="10" text-anchor="end" font-weight="normal" fill="#141414" stroke="#141414" stroke-width="0.18">0</text>
<path d="M63.40,358.93 H68.20" stroke="#262626" stroke-width="1.3"/>
<text transform="translate(60.90,362.83) scale(1,1.0)" font-size="10" text-anchor="end" font-weight="normal" fill="#141414" stroke="#141414" stroke-width="0.18">2000</text>
<path d="M63.40,324.27 H68.20" stroke="#262626" stroke-width="1.3"/>
<text transform="translate(60.90,328.17) scale(1,1.0)" font-size="10" text-anchor="end" font-weight="normal" fill="#141414" stroke="#141414" stroke-width="0.18">4000</text>
<path d="M63.40,289.60 H68.20" stroke="#262626" stroke-width="1.3"/>
<text transform="translate(60.90,293.50) scale(1,1.0)" font-size="10" text-anchor="end" font-weight="normal" fill="#141414" stroke="#141414" stroke-width="0.18">6000</text>
<path d="M68.20,396.00 V400.80" stroke="#262626" stroke-width="1.3"/>
<text transform="translate(68.20,410.80) scale(1,1.0)" font-size="10" text-anchor="middle" font-weight="normal" fill="#141414" stroke="#141414" stroke-width="0.18">0</text>
<path d="M100.20,396.00 V400.80" stroke="#262626" stroke-width="1.3"/>
<text transform="translate(100.20,410.80) scale(1,1.0)" font-size="10" text-anchor="middle" font-weight="normal" fill="#141414" stroke="#141414" stroke-width="0.18">5</text>
<path d="M132.20,396.00 V400.80" stroke="#262626" stroke-width="1.3"/>
<text transform="translate(132.20,410.80) scale(1,1.0)" font-size="10" text-anchor="middle" font-weight="normal" fill="#141414" stroke="#141414" stroke-width="0.18">10</text>
<path d="M164.20,396.00 V400.80" stroke="#262626" stroke-width="1.3"/>
<text transform="translate(164.20,410.80) scale(1,1.0)" font-size="10" text-anchor="middle" font-weight="normal" fill="#141414" stroke="#141414" stroke-width="0.18">15</text>
<path d="M196.20,396.00 V400.80" stroke="#262626" stroke-width="1.3"/>
<text transform="translate(196.20,410.80) scale(1,1.0)" font-size="10" text-anchor="middle" font-weight="normal" fill="#141414" stroke="#141414" stroke-width="0.18">20</text>
<path d="M228.20,396.00 V400.80" stroke="#262626" stroke-width="1.3"/>
<text transform="translate(228.20,410.80) scale(1,1.0)" font-size="10" text-anchor="middle" font-weight="normal" fill="#141414" stroke="#141414" stroke-width="0.18">25</text>
<text transform="translate(149.80,423.50) scale(1,1.0)" font-size="10" text-anchor="middle" font-weight="normal" fill="#141414" stroke="#141414" stroke-width="0.18">Time (h)</text>
<text transform="translate(152.70,283.60) scale(1,1.0)" font-size="10" text-anchor="middle" font-weight="normal" fill="#141414" stroke="#141414" stroke-width="0.18">hFcγRIIb</text>
<text transform="translate(17.90,346.30) rotate(-90) scale(1,1.0)" font-size="10" text-anchor="middle" fill="#141414" stroke="#141414" stroke-width="0.18">Total serum IgE</text>
<text transform="translate(30.20,346.30) rotate(-90) scale(1,1.0)" font-size="10" text-anchor="middle" fill="#141414" stroke="#141414" stroke-width="0.18">concentration (ng/mL)</text>
<path d="M232.00,297.00 H243.90" stroke="#b8b0dc" stroke-width="1.3"/>
<circle cx="237.95" cy="297.00" r="2.56" fill="#b8b0dc"/>
<text transform="translate(250.40,300.60) scale(1,1.0)" font-size="10" text-anchor="start" font-weight="normal" fill="#141414" stroke="#141414" stroke-width="0.18">Only IgE</text>
<path d="M232.00,311.20 H243.90" stroke="#6fa8d3" stroke-width="1.3"/>
<rect x="235.43" y="308.68" width="5.03" height="5.03" fill="#6fa8d3"/>
<text transform="translate(250.40,314.80) scale(1,1.0)" font-size="10" text-anchor="start" font-weight="normal" fill="#141414" stroke="#141414" stroke-width="0.18">Omalizumab</text>
<path d="M232.00,325.20 H243.90" stroke="#f5bcd5" stroke-width="1.3"/>
<path d="M237.95,322.16 L240.80,327.29 L235.10,327.29Z" fill="#f5bcd5"/>
<text transform="translate(250.40,328.80) scale(1,1.0)" font-size="10" text-anchor="start" font-weight="normal" fill="#141414" stroke="#141414" stroke-width="0.18">NK-2-12</text>
<path d="M232.00,339.50 H243.90" stroke="#ef6d66" stroke-width="1.3"/>
<path d="M237.95,342.54 L240.80,337.41 L235.10,337.41Z" fill="#ef6d66"/>
<text transform="translate(250.40,343.10) scale(1,1.0)" font-size="10" text-anchor="start" font-weight="normal" fill="#141414" stroke="#141414" stroke-width="0.18">NK-2-12-SK4</text>
<path d="M232.00,353.60 H243.90" stroke="#f7a95e" stroke-width="1.3"/>
<path d="M237.95,350.56 L240.99,353.60 L237.95,356.64 L234.91,353.60Z" fill="#f7a95e"/>
<text transform="translate(250.40,357.20) scale(1,1.0)" font-size="10" text-anchor="start" font-weight="normal" fill="#141414" stroke="#141414" stroke-width="0.18">Omalizumab-SK4</text>
<path d="M73.75,294.20 L74.29,295.61 L75.79,295.69 L74.62,296.63 L75.01,298.09 L73.75,297.27 L72.49,298.09 L72.88,296.63 L71.71,295.69 L73.21,295.61Z" fill="#111"/>
<path d="M77.65,294.20 L78.19,295.61 L79.69,295.69 L78.52,296.63 L78.91,298.09 L77.65,297.27 L76.39,298.09 L76.78,296.63 L75.61,295.69 L77.11,295.61Z" fill="#111"/>
<path d="M81.55,294.20 L82.09,295.61 L83.59,295.69 L82.42,296.63 L82.81,298.09 L81.55,297.27 L80.29,298.09 L80.68,296.63 L79.51,295.69 L81.01,295.61Z" fill="#111"/>
<path d="M85.45,294.20 L85.99,295.61 L87.49,295.69 L86.32,296.63 L86.71,298.09 L85.45,297.27 L84.19,298.09 L84.58,296.63 L83.41,295.69 L84.91,295.61Z" fill="#111"/>
<path d="M80.85,303.10 L81.39,304.51 L82.89,304.59 L81.72,305.53 L82.11,306.99 L80.85,306.17 L79.59,306.99 L79.98,305.53 L78.81,304.59 L80.31,304.51Z" fill="#111"/>
<path d="M84.75,303.10 L85.29,304.51 L86.79,304.59 L85.62,305.53 L86.01,306.99 L84.75,306.17 L83.49,306.99 L83.88,305.53 L82.71,304.59 L84.21,304.51Z" fill="#111"/>
<path d="M88.65,303.10 L89.19,304.51 L90.69,304.59 L89.52,305.53 L89.91,306.99 L88.65,306.17 L87.39,306.99 L87.78,305.53 L86.61,304.59 L88.11,304.51Z" fill="#111"/>
<path d="M92.55,303.10 L93.09,304.51 L94.59,304.59 L93.42,305.53 L93.81,306.99 L92.55,306.17 L91.29,306.99 L91.68,305.53 L90.51,304.59 L92.01,304.51Z" fill="#111"/>
<path d="M93.25,311.90 L93.79,313.31 L95.29,313.39 L94.12,314.33 L94.51,315.79 L93.25,314.97 L91.99,315.79 L92.38,314.33 L91.21,313.39 L92.71,313.31Z" fill="#111"/>
<path d="M97.15,311.90 L97.69,313.31 L99.19,313.39 L98.02,314.33 L98.41,315.79 L97.15,314.97 L95.89,315.79 L96.28,314.33 L95.11,313.39 L96.61,313.31Z" fill="#111"/>
<path d="M101.05,311.90 L101.59,313.31 L103.09,313.39 L101.92,314.33 L102.31,315.79 L101.05,314.97 L99.79,315.79 L100.18,314.33 L99.01,313.39 L100.51,313.31Z" fill="#111"/>
<path d="M104.95,311.90 L105.49,313.31 L106.99,313.39 L105.82,314.33 L106.21,315.79 L104.95,314.97 L103.69,315.79 L104.08,314.33 L102.91,313.39 L104.41,313.31Z" fill="#111"/>
<path d="M125.15,328.30 L125.69,329.71 L127.19,329.79 L126.02,330.73 L126.41,332.19 L125.15,331.37 L123.89,332.19 L124.28,330.73 L123.11,329.79 L124.61,329.71Z" fill="#111"/>
<path d="M129.05,328.30 L129.59,329.71 L131.09,329.79 L129.92,330.73 L130.31,332.19 L129.05,331.37 L127.79,332.19 L128.18,330.73 L127.01,329.79 L128.51,329.71Z" fill="#111"/>
<path d="M132.95,328.30 L133.49,329.71 L134.99,329.79 L133.82,330.73 L134.21,332.19 L132.95,331.37 L131.69,332.19 L132.08,330.73 L130.91,329.79 L132.41,329.71Z" fill="#111"/>
<path d="M136.85,328.30 L137.39,329.71 L138.89,329.79 L137.72,330.73 L138.11,332.19 L136.85,331.37 L135.59,332.19 L135.98,330.73 L134.81,329.79 L136.31,329.71Z" fill="#111"/>
<path d="M215.45,356.60 L215.99,358.01 L217.49,358.09 L216.32,359.03 L216.71,360.49 L215.45,359.67 L214.19,360.49 L214.58,359.03 L213.41,358.09 L214.91,358.01Z" fill="#111"/>
<path d="M219.35,356.60 L219.89,358.01 L221.39,358.09 L220.22,359.03 L220.61,360.49 L219.35,359.67 L218.09,360.49 L218.48,359.03 L217.31,358.09 L218.81,358.01Z" fill="#111"/>
<path d="M223.25,356.60 L223.79,358.01 L225.29,358.09 L224.12,359.03 L224.51,360.49 L223.25,359.67 L221.99,360.49 L222.38,359.03 L221.21,358.09 L222.71,358.01Z" fill="#111"/>
<path d="M227.15,356.60 L227.69,358.01 L229.19,358.09 L228.02,359.03 L228.41,360.49 L227.15,359.67 L225.89,360.49 L226.28,359.03 L225.11,358.09 L226.61,358.01Z" fill="#111"/>
<path d="M72.05,315.70 L72.59,317.11 L74.09,317.19 L72.92,318.13 L73.31,319.59 L72.05,318.77 L70.79,319.59 L71.18,318.13 L70.01,317.19 L71.51,317.11Z" fill="#111"/>
<path d="M75.95,315.70 L76.49,317.11 L77.99,317.19 L76.82,318.13 L77.21,319.59 L75.95,318.77 L74.69,319.59 L75.08,318.13 L73.91,317.19 L75.41,317.11Z" fill="#111"/>
<path d="M79.85,315.70 L80.39,317.11 L81.89,317.19 L80.72,318.13 L81.11,319.59 L79.85,318.77 L78.59,319.59 L78.98,318.13 L77.81,317.19 L79.31,317.11Z" fill="#111"/>
<path d="M83.75,315.70 L84.29,317.11 L85.79,317.19 L84.62,318.13 L85.01,319.59 L83.75,318.77 L82.49,319.59 L82.88,318.13 L81.71,317.19 L83.21,317.11Z" fill="#111"/>
<path d="M73.15,318.80 L73.69,320.21 L75.19,320.29 L74.02,321.23 L74.41,322.69 L73.15,321.87 L71.89,322.69 L72.28,321.23 L71.11,320.29 L72.61,320.21Z" fill="#111"/>
<path d="M77.05,318.80 L77.59,320.21 L79.09,320.29 L77.92,321.23 L78.31,322.69 L77.05,321.87 L75.79,322.69 L76.18,321.23 L75.01,320.29 L76.51,320.21Z" fill="#111"/>
<path d="M80.95,318.80 L81.49,320.21 L82.99,320.29 L81.82,321.23 L82.21,322.69 L80.95,321.87 L79.69,322.69 L80.08,321.23 L78.91,320.29 L80.41,320.21Z" fill="#111"/>
<path d="M84.85,318.80 L85.39,320.21 L86.89,320.29 L85.72,321.23 L86.11,322.69 L84.85,321.87 L83.59,322.69 L83.98,321.23 L82.81,320.29 L84.31,320.21Z" fill="#111"/>
<path d="M71.45,327.90 L71.99,329.31 L73.49,329.39 L72.32,330.33 L72.71,331.79 L71.45,330.97 L70.19,331.79 L70.58,330.33 L69.41,329.39 L70.91,329.31Z" fill="#111"/>
<path d="M75.35,327.90 L75.89,329.31 L77.39,329.39 L76.22,330.33 L76.61,331.79 L75.35,330.97 L74.09,331.79 L74.48,330.33 L73.31,329.39 L74.81,329.31Z" fill="#111"/>
<path d="M79.25,327.90 L79.79,329.31 L81.29,329.39 L80.12,330.33 L80.51,331.79 L79.25,330.97 L77.99,331.79 L78.38,330.33 L77.21,329.39 L78.71,329.31Z" fill="#111"/>
<path d="M83.15,327.90 L83.69,329.31 L85.19,329.39 L84.02,330.33 L84.41,331.79 L83.15,330.97 L81.89,331.79 L82.28,330.33 L81.11,329.39 L82.61,329.31Z" fill="#111"/>
<path d="M86.15,331.10 L86.69,332.51 L88.19,332.59 L87.02,333.53 L87.41,334.99 L86.15,334.17 L84.89,334.99 L85.28,333.53 L84.11,332.59 L85.61,332.51Z" fill="#111"/>
<path d="M90.05,331.10 L90.59,332.51 L92.09,332.59 L90.92,333.53 L91.31,334.99 L90.05,334.17 L88.79,334.99 L89.18,333.53 L88.01,332.59 L89.51,332.51Z" fill="#111"/>
<path d="M93.95,331.10 L94.49,332.51 L95.99,332.59 L94.82,333.53 L95.21,334.99 L93.95,334.17 L92.69,334.99 L93.08,333.53 L91.91,332.59 L93.41,332.51Z" fill="#111"/>
<path d="M97.85,331.10 L98.39,332.51 L99.89,332.59 L98.72,333.53 L99.11,334.99 L97.85,334.17 L96.59,334.99 L96.98,333.53 L95.81,332.59 L97.31,332.51Z" fill="#111"/>
<path d="M86.15,335.20 L86.69,336.61 L88.19,336.69 L87.02,337.63 L87.41,339.09 L86.15,338.27 L84.89,339.09 L85.28,337.63 L84.11,336.69 L85.61,336.61Z" fill="#111"/>
<path d="M90.05,335.20 L90.59,336.61 L92.09,336.69 L90.92,337.63 L91.31,339.09 L90.05,338.27 L88.79,339.09 L89.18,337.63 L88.01,336.69 L89.51,336.61Z" fill="#111"/>
<path d="M93.95,335.20 L94.49,336.61 L95.99,336.69 L94.82,337.63 L95.21,339.09 L93.95,338.27 L92.69,339.09 L93.08,337.63 L91.91,336.69 L93.41,336.61Z" fill="#111"/>
<path d="M97.85,335.20 L98.39,336.61 L99.89,336.69 L98.72,337.63 L99.11,339.09 L97.85,338.27 L96.59,339.09 L96.98,337.63 L95.81,336.69 L97.31,336.61Z" fill="#111"/>
<path d="M74.25,347.80 L74.79,349.21 L76.29,349.29 L75.12,350.23 L75.51,351.69 L74.25,350.87 L72.99,351.69 L73.38,350.23 L72.21,349.29 L73.71,349.21Z" fill="#111"/>
<path d="M78.15,347.80 L78.69,349.21 L80.19,349.29 L79.02,350.23 L79.41,351.69 L78.15,350.87 L76.89,351.69 L77.28,350.23 L76.11,349.29 L77.61,349.21Z" fill="#111"/>
<path d="M82.05,347.80 L82.59,349.21 L84.09,349.29 L82.92,350.23 L83.31,351.69 L82.05,350.87 L80.79,351.69 L81.18,350.23 L80.01,349.29 L81.51,349.21Z" fill="#111"/>
<path d="M85.95,347.80 L86.49,349.21 L87.99,349.29 L86.82,350.23 L87.21,351.69 L85.95,350.87 L84.69,351.69 L85.08,350.23 L83.91,349.29 L85.41,349.21Z" fill="#111"/>
<path d="M91.55,347.40 L92.09,348.81 L93.59,348.89 L92.42,349.83 L92.81,351.29 L91.55,350.47 L90.29,351.29 L90.68,349.83 L89.51,348.89 L91.01,348.81Z" fill="#111"/>
<path d="M95.45,347.40 L95.99,348.81 L97.49,348.89 L96.32,349.83 L96.71,351.29 L95.45,350.47 L94.19,351.29 L94.58,349.83 L93.41,348.89 L94.91,348.81Z" fill="#111"/>
<path d="M99.35,347.40 L99.89,348.81 L101.39,348.89 L100.22,349.83 L100.61,351.29 L99.35,350.47 L98.09,351.29 L98.48,349.83 L97.31,348.89 L98.81,348.81Z" fill="#111"/>
<path d="M103.25,347.40 L103.79,348.81 L105.29,348.89 L104.12,349.83 L104.51,351.29 L103.25,350.47 L101.99,351.29 L102.38,349.83 L101.21,348.89 L102.71,348.81Z" fill="#111"/>
<path d="M93.15,350.50 L93.69,351.91 L95.19,351.99 L94.02,352.93 L94.41,354.39 L93.15,353.57 L91.89,354.39 L92.28,352.93 L91.11,351.99 L92.61,351.91Z" fill="#111"/>
<path d="M97.05,350.50 L97.59,351.91 L99.09,351.99 L97.92,352.93 L98.31,354.39 L97.05,353.57 L95.79,354.39 L96.18,352.93 L95.01,351.99 L96.51,351.91Z" fill="#111"/>
<path d="M100.95,350.50 L101.49,351.91 L102.99,351.99 L101.82,352.93 L102.21,354.39 L100.95,353.57 L99.69,354.39 L100.08,352.93 L98.91,351.99 L100.41,351.91Z" fill="#111"/>
<path d="M104.85,350.50 L105.39,351.91 L106.89,351.99 L105.72,352.93 L106.11,354.39 L104.85,353.57 L103.59,354.39 L103.98,352.93 L102.81,351.99 L104.31,351.91Z" fill="#111"/>
<path d="M84.45,362.00 L84.99,363.41 L86.49,363.49 L85.32,364.43 L85.71,365.89 L84.45,365.07 L83.19,365.89 L83.58,364.43 L82.41,363.49 L83.91,363.41Z" fill="#111"/>
<path d="M88.35,362.00 L88.89,363.41 L90.39,363.49 L89.22,364.43 L89.61,365.89 L88.35,365.07 L87.09,365.89 L87.48,364.43 L86.31,363.49 L87.81,363.41Z" fill="#111"/>
<path d="M92.25,362.00 L92.79,363.41 L94.29,363.49 L93.12,364.43 L93.51,365.89 L92.25,365.07 L90.99,365.89 L91.38,364.43 L90.21,363.49 L91.71,363.41Z" fill="#111"/>
<path d="M96.15,362.00 L96.69,363.41 L98.19,363.49 L97.02,364.43 L97.41,365.89 L96.15,365.07 L94.89,365.89 L95.28,364.43 L94.11,363.49 L95.61,363.41Z" fill="#111"/>
<path d="M120.15,372.10 L120.69,373.51 L122.19,373.59 L121.02,374.53 L121.41,375.99 L120.15,375.17 L118.89,375.99 L119.28,374.53 L118.11,373.59 L119.61,373.51Z" fill="#111"/>
<path d="M124.05,372.10 L124.59,373.51 L126.09,373.59 L124.92,374.53 L125.31,375.99 L124.05,375.17 L122.79,375.99 L123.18,374.53 L122.01,373.59 L123.51,373.51Z" fill="#111"/>
<text transform="translate(-0.60,271.60) scale(1,1.0)" font-size="11.5" text-anchor="start" font-weight="bold" fill="#000" >d</text>
<path d="M430.08,386.80 L436.47,391.00 L442.85,391.50 L474.77,392.50 L564.15,392.00" fill="none" stroke="#f7a95e" stroke-width="1.2"/>
<path d="M430.08,383.60 L433.28,386.80 L430.08,390.00 L426.88,386.80Z" fill="#f7a95e"/>
<path d="M436.47,387.80 L439.67,391.00 L436.47,394.20 L433.27,391.00Z" fill="#f7a95e"/>
<path d="M442.85,388.30 L446.05,391.50 L442.85,394.70 L439.65,391.50Z" fill="#f7a95e"/>
<path d="M474.77,389.30 L477.97,392.50 L474.77,395.70 L471.57,392.50Z" fill="#f7a95e"/>
<path d="M564.15,388.80 L567.35,392.00 L564.15,395.20 L560.95,392.00Z" fill="#f7a95e"/>
<path d="M430.08,381.30 L436.47,393.60 L442.85,393.60 L474.77,393.50 L564.15,391.00" fill="none" stroke="#ef6d66" stroke-width="1.2"/>
<path d="M430.08,379.30 V383.30 M427.48,379.30 H432.68 M427.48,383.30 H432.68" stroke="#ef6d66" stroke-width="1.1" fill="none"/>
<path d="M564.15,388.50 V393.50 M561.55,388.50 H566.75 M561.55,393.50 H566.75" stroke="#ef6d66" stroke-width="1.1" fill="none"/>
<path d="M430.08,384.50 L433.08,379.10 L427.08,379.10Z" fill="#ef6d66"/>
<path d="M436.47,396.80 L439.47,391.40 L433.47,391.40Z" fill="#ef6d66"/>
<path d="M442.85,396.80 L445.85,391.40 L439.85,391.40Z" fill="#ef6d66"/>
<path d="M474.77,396.70 L477.77,391.30 L471.77,391.30Z" fill="#ef6d66"/>
<path d="M564.15,394.20 L567.15,388.80 L561.15,388.80Z" fill="#ef6d66"/>
<path d="M430.08,314.30 L436.47,349.00 L442.85,367.00 L474.77,389.50 L564.15,391.00" fill="none" stroke="#f5bcd5" stroke-width="1.2"/>
<path d="M430.08,309.90 V318.70 M427.48,309.90 H432.68 M427.48,318.70 H432.68" stroke="#f5bcd5" stroke-width="1.1" fill="none"/>
<path d="M436.47,341.60 V356.40 M433.87,341.60 H439.07 M433.87,356.40 H439.07" stroke="#f5bcd5" stroke-width="1.1" fill="none"/>
<path d="M442.85,361.70 V372.30 M440.25,361.70 H445.45 M440.25,372.30 H445.45" stroke="#f5bcd5" stroke-width="1.1" fill="none"/>
<path d="M474.77,388.50 V390.50 M472.17,388.50 H477.37 M472.17,390.50 H477.37" stroke="#f5bcd5" stroke-width="1.1" fill="none"/>
<path d="M564.15,390.00 V392.00 M561.55,390.00 H566.75 M561.55,392.00 H566.75" stroke="#f5bcd5" stroke-width="1.1" fill="none"/>
<path d="M430.08,311.10 L433.08,316.50 L427.08,316.50Z" fill="#f5bcd5"/>
<path d="M436.47,345.80 L439.47,351.20 L433.47,351.20Z" fill="#f5bcd5"/>
<path d="M442.85,363.80 L445.85,369.20 L439.85,369.20Z" fill="#f5bcd5"/>
<path d="M474.77,386.30 L477.77,391.70 L471.77,391.70Z" fill="#f5bcd5"/>
<path d="M564.15,387.80 L567.15,393.20 L561.15,393.20Z" fill="#f5bcd5"/>
<path d="M430.08,386.30 L436.47,389.40 L442.85,389.40 L474.77,392.00 L564.15,392.50" fill="none" stroke="#6fa8d3" stroke-width="1.2"/>
<path d="M430.08,384.30 V388.30 M427.48,384.30 H432.68 M427.48,388.30 H432.68" stroke="#6fa8d3" stroke-width="1.1" fill="none"/>
<path d="M436.47,388.40 V390.40 M433.87,388.40 H439.07 M433.87,390.40 H439.07" stroke="#6fa8d3" stroke-width="1.1" fill="none"/>
<path d="M442.85,388.40 V390.40 M440.25,388.40 H445.45 M440.25,390.40 H445.45" stroke="#6fa8d3" stroke-width="1.1" fill="none"/>
<rect x="427.43" y="383.65" width="5.30" height="5.30" fill="#6fa8d3"/>
<rect x="433.82" y="386.75" width="5.30" height="5.30" fill="#6fa8d3"/>
<rect x="440.20" y="386.75" width="5.30" height="5.30" fill="#6fa8d3"/>
<rect x="472.12" y="389.35" width="5.30" height="5.30" fill="#6fa8d3"/>
<rect x="561.50" y="389.85" width="5.30" height="5.30" fill="#6fa8d3"/>
<path d="M430.08,335.80 L436.47,349.40 L442.85,369.10 L474.77,390.20 L564.15,392.30" fill="none" stroke="#b8b0dc" stroke-width="1.2"/>
<path d="M430.08,332.60 V339.00 M427.48,332.60 H432.68 M427.48,339.00 H432.68" stroke="#b8b0dc" stroke-width="1.1" fill="none"/>
<path d="M436.47,344.90 V353.90 M433.87,344.90 H439.07 M433.87,353.90 H439.07" stroke="#b8b0dc" stroke-width="1.1" fill="none"/>
<path d="M442.85,366.10 V372.10 M440.25,366.10 H445.45 M440.25,372.10 H445.45" stroke="#b8b0dc" stroke-width="1.1" fill="none"/>
<path d="M474.77,388.70 V391.70 M472.17,388.70 H477.37 M472.17,391.70 H477.37" stroke="#b8b0dc" stroke-width="1.1" fill="none"/>
<path d="M564.15,390.30 V394.30 M561.55,390.30 H566.75 M561.55,394.30 H566.75" stroke="#b8b0dc" stroke-width="1.1" fill="none"/>
<circle cx="430.08" cy="335.80" r="2.70" fill="#b8b0dc"/>
<circle cx="436.47" cy="349.40" r="2.70" fill="#b8b0dc"/>
<circle cx="442.85" cy="369.10" r="2.70" fill="#b8b0dc"/>
<circle cx="474.77" cy="390.20" r="2.70" fill="#b8b0dc"/>
<circle cx="564.15" cy="392.30" r="2.70" fill="#b8b0dc"/>
<path d="M423.60,290.00 V397.00" stroke="#262626" stroke-width="1.3" fill="none"/>
<path d="M423.00,396.40 H583.90" stroke="#262626" stroke-width="1.3" fill="none"/>
<path d="M418.80,394.10 H423.60" stroke="#262626" stroke-width="1.3"/>
<text transform="translate(416.30,398.00) scale(1,1.0)" font-size="10" text-anchor="end" font-weight="normal" fill="#141414" stroke="#141414" stroke-width="0.18">0</text>
<path d="M418.80,368.08 H423.60" stroke="#262626" stroke-width="1.3"/>
<text transform="translate(416.30,371.98) scale(1,1.0)" font-size="10" text-anchor="end" font-weight="normal" fill="#141414" stroke="#141414" stroke-width="0.18">2000</text>
<path d="M418.80,342.05 H423.60" stroke="#262626" stroke-width="1.3"/>
<text transform="translate(416.30,345.95) scale(1,1.0)" font-size="10" text-anchor="end" font-weight="normal" fill="#141414" stroke="#141414" stroke-width="0.18">4000</text>
<path d="M418.80,316.03 H423.60" stroke="#262626" stroke-width="1.3"/>
<text transform="translate(416.30,319.93) scale(1,1.0)" font-size="10" text-anchor="end" font-weight="normal" fill="#141414" stroke="#141414" stroke-width="0.18">6000</text>
<path d="M418.80,290.00 H423.60" stroke="#262626" stroke-width="1.3"/>
<text transform="translate(416.30,293.90) scale(1,1.0)" font-size="10" text-anchor="end" font-weight="normal" fill="#141414" stroke="#141414" stroke-width="0.18">8000</text>
<path d="M423.70,396.40 V401.20" stroke="#262626" stroke-width="1.3"/>
<text transform="translate(423.70,411.50) scale(1,1.0)" font-size="10" text-anchor="middle" font-weight="normal" fill="#141414" stroke="#141414" stroke-width="0.18">0</text>
<path d="M455.62,396.40 V401.20" stroke="#262626" stroke-width="1.3"/>
<text transform="translate(455.62,411.50) scale(1,1.0)" font-size="10" text-anchor="middle" font-weight="normal" fill="#141414" stroke="#141414" stroke-width="0.18">5</text>
<path d="M487.54,396.40 V401.20" stroke="#262626" stroke-width="1.3"/>
<text transform="translate(487.54,411.50) scale(1,1.0)" font-size="10" text-anchor="middle" font-weight="normal" fill="#141414" stroke="#141414" stroke-width="0.18">10</text>
<path d="M519.46,396.40 V401.20" stroke="#262626" stroke-width="1.3"/>
<text transform="translate(519.46,411.50) scale(1,1.0)" font-size="10" text-anchor="middle" font-weight="normal" fill="#141414" stroke="#141414" stroke-width="0.18">15</text>
<path d="M551.38,396.40 V401.20" stroke="#262626" stroke-width="1.3"/>
<text transform="translate(551.38,411.50) scale(1,1.0)" font-size="10" text-anchor="middle" font-weight="normal" fill="#141414" stroke="#141414" stroke-width="0.18">20</text>
<path d="M583.30,396.40 V401.20" stroke="#262626" stroke-width="1.3"/>
<text transform="translate(583.30,411.50) scale(1,1.0)" font-size="10" text-anchor="middle" font-weight="normal" fill="#141414" stroke="#141414" stroke-width="0.18">25</text>
<text transform="translate(505.20,423.70) scale(1,1.0)" font-size="10" text-anchor="middle" font-weight="normal" fill="#141414" stroke="#141414" stroke-width="0.18">Time (h)</text>
<text transform="translate(508.90,284.90) scale(1,1.0)" font-size="10" text-anchor="middle" font-weight="normal" fill="#141414" stroke="#141414" stroke-width="0.18">hFcγRIIb</text>
<text transform="translate(373.70,341.30) rotate(-90) scale(1,1.0)" font-size="10" text-anchor="middle" fill="#141414" stroke="#141414" stroke-width="0.18">Free serum IgE</text>
<text transform="translate(386.10,340.95) rotate(-90) scale(1,1.0)" font-size="10" text-anchor="middle" fill="#141414" stroke="#141414" stroke-width="0.18">concentration (ng/mL)</text>
<path d="M587.30,297.30 H599.70" stroke="#b8b0dc" stroke-width="1.3"/>
<circle cx="593.50" cy="297.30" r="2.56" fill="#b8b0dc"/>
<text transform="translate(605.60,300.90) scale(1,1.0)" font-size="10" text-anchor="start" font-weight="normal" fill="#141414" stroke="#141414" stroke-width="0.18">Only IgE</text>
<path d="M587.30,311.40 H599.70" stroke="#6fa8d3" stroke-width="1.3"/>
<rect x="590.98" y="308.88" width="5.03" height="5.03" fill="#6fa8d3"/>
<text transform="translate(605.60,315.00) scale(1,1.0)" font-size="10" text-anchor="start" font-weight="normal" fill="#141414" stroke="#141414" stroke-width="0.18">Omalizumab</text>
<path d="M587.30,325.30 H599.70" stroke="#f5bcd5" stroke-width="1.3"/>
<path d="M593.50,322.26 L596.35,327.39 L590.65,327.39Z" fill="#f5bcd5"/>
<text transform="translate(605.60,328.90) scale(1,1.0)" font-size="10" text-anchor="start" font-weight="normal" fill="#141414" stroke="#141414" stroke-width="0.18">NK-2-12</text>
<path d="M587.30,339.60 H599.70" stroke="#ef6d66" stroke-width="1.3"/>
<path d="M593.50,342.64 L596.35,337.51 L590.65,337.51Z" fill="#ef6d66"/>
<text transform="translate(605.60,343.20) scale(1,1.0)" font-size="10" text-anchor="start" font-weight="normal" fill="#141414" stroke="#141414" stroke-width="0.18">NK-2-12-SK4</text>
<path d="M587.30,353.90 H599.70" stroke="#f7a95e" stroke-width="1.3"/>
<path d="M593.50,350.86 L596.54,353.90 L593.50,356.94 L590.46,353.90Z" fill="#f7a95e"/>
<text transform="translate(605.60,357.50) scale(1,1.0)" font-size="10" text-anchor="start" font-weight="normal" fill="#141414" stroke="#141414" stroke-width="0.18">Omalizumab-SK4</text>
<path d="M436.65,311.50 L437.19,312.91 L438.69,312.99 L437.52,313.93 L437.91,315.39 L436.65,314.57 L435.39,315.39 L435.78,313.93 L434.61,312.99 L436.11,312.91Z" fill="#111"/>
<path d="M440.55,311.50 L441.09,312.91 L442.59,312.99 L441.42,313.93 L441.81,315.39 L440.55,314.57 L439.29,315.39 L439.68,313.93 L438.51,312.99 L440.01,312.91Z" fill="#111"/>
<path d="M444.45,311.50 L444.99,312.91 L446.49,312.99 L445.32,313.93 L445.71,315.39 L444.45,314.57 L443.19,315.39 L443.58,313.93 L442.41,312.99 L443.91,312.91Z" fill="#111"/>
<path d="M448.35,311.50 L448.89,312.91 L450.39,312.99 L449.22,313.93 L449.61,315.39 L448.35,314.57 L447.09,315.39 L447.48,313.93 L446.31,312.99 L447.81,312.91Z" fill="#111"/>
<path d="M436.65,333.50 L437.19,334.91 L438.69,334.99 L437.52,335.93 L437.91,337.39 L436.65,336.57 L435.39,337.39 L435.78,335.93 L434.61,334.99 L436.11,334.91Z" fill="#111"/>
<path d="M440.55,333.50 L441.09,334.91 L442.59,334.99 L441.42,335.93 L441.81,337.39 L440.55,336.57 L439.29,337.39 L439.68,335.93 L438.51,334.99 L440.01,334.91Z" fill="#111"/>
<path d="M444.45,333.50 L444.99,334.91 L446.49,334.99 L445.32,335.93 L445.71,337.39 L444.45,336.57 L443.19,337.39 L443.58,335.93 L442.41,334.99 L443.91,334.91Z" fill="#111"/>
<path d="M448.35,333.50 L448.89,334.91 L450.39,334.99 L449.22,335.93 L449.61,337.39 L448.35,336.57 L447.09,337.39 L447.48,335.93 L446.31,334.99 L447.81,334.91Z" fill="#111"/>
<path d="M442.05,345.70 L442.59,347.11 L444.09,347.19 L442.92,348.13 L443.31,349.59 L442.05,348.77 L440.79,349.59 L441.18,348.13 L440.01,347.19 L441.51,347.11Z" fill="#111"/>
<path d="M445.95,345.70 L446.49,347.11 L447.99,347.19 L446.82,348.13 L447.21,349.59 L445.95,348.77 L444.69,349.59 L445.08,348.13 L443.91,347.19 L445.41,347.11Z" fill="#111"/>
<path d="M449.85,345.70 L450.39,347.11 L451.89,347.19 L450.72,348.13 L451.11,349.59 L449.85,348.77 L448.59,349.59 L448.98,348.13 L447.81,347.19 L449.31,347.11Z" fill="#111"/>
<path d="M453.75,345.70 L454.29,347.11 L455.79,347.19 L454.62,348.13 L455.01,349.59 L453.75,348.77 L452.49,349.59 L452.88,348.13 L451.71,347.19 L453.21,347.11Z" fill="#111"/>
<path d="M442.05,350.30 L442.59,351.71 L444.09,351.79 L442.92,352.73 L443.31,354.19 L442.05,353.37 L440.79,354.19 L441.18,352.73 L440.01,351.79 L441.51,351.71Z" fill="#111"/>
<path d="M445.95,350.30 L446.49,351.71 L447.99,351.79 L446.82,352.73 L447.21,354.19 L445.95,353.37 L444.69,354.19 L445.08,352.73 L443.91,351.79 L445.41,351.71Z" fill="#111"/>
<path d="M449.85,350.30 L450.39,351.71 L451.89,351.79 L450.72,352.73 L451.11,354.19 L449.85,353.37 L448.59,354.19 L448.98,352.73 L447.81,351.79 L449.31,351.71Z" fill="#111"/>
<path d="M453.75,350.30 L454.29,351.71 L455.79,351.79 L454.62,352.73 L455.01,354.19 L453.75,353.37 L452.49,354.19 L452.88,352.73 L451.71,351.79 L453.21,351.71Z" fill="#111"/>
<path d="M447.15,363.10 L447.69,364.51 L449.19,364.59 L448.02,365.53 L448.41,366.99 L447.15,366.17 L445.89,366.99 L446.28,365.53 L445.11,364.59 L446.61,364.51Z" fill="#111"/>
<path d="M451.05,363.10 L451.59,364.51 L453.09,364.59 L451.92,365.53 L452.31,366.99 L451.05,366.17 L449.79,366.99 L450.18,365.53 L449.01,364.59 L450.51,364.51Z" fill="#111"/>
<path d="M454.95,363.10 L455.49,364.51 L456.99,364.59 L455.82,365.53 L456.21,366.99 L454.95,366.17 L453.69,366.99 L454.08,365.53 L452.91,364.59 L454.41,364.51Z" fill="#111"/>
<path d="M458.85,363.10 L459.39,364.51 L460.89,364.59 L459.72,365.53 L460.11,366.99 L458.85,366.17 L457.59,366.99 L457.98,365.53 L456.81,364.59 L458.31,364.51Z" fill="#111"/>
<path d="M450.45,366.50 L450.99,367.91 L452.49,367.99 L451.32,368.93 L451.71,370.39 L450.45,369.57 L449.19,370.39 L449.58,368.93 L448.41,367.99 L449.91,367.91Z" fill="#111"/>
<path d="M454.35,366.50 L454.89,367.91 L456.39,367.99 L455.22,368.93 L455.61,370.39 L454.35,369.57 L453.09,370.39 L453.48,368.93 L452.31,367.99 L453.81,367.91Z" fill="#111"/>
<path d="M458.25,366.50 L458.79,367.91 L460.29,367.99 L459.12,368.93 L459.51,370.39 L458.25,369.57 L456.99,370.39 L457.38,368.93 L456.21,367.99 L457.71,367.91Z" fill="#111"/>
<path d="M462.15,366.50 L462.69,367.91 L464.19,367.99 L463.02,368.93 L463.41,370.39 L462.15,369.57 L460.89,370.39 L461.28,368.93 L460.11,367.99 L461.61,367.91Z" fill="#111"/>
<text transform="translate(357.60,271.20) scale(1,1.0)" font-size="11.5" text-anchor="start" font-weight="bold" fill="#000" >e</text>
<path d="M73.56,504.00 L79.93,503.60 L86.29,505.10 L118.11,522.30 L207.21,539.10" fill="none" stroke="#a8d470" stroke-width="1.2"/>
<path d="M73.56,501.00 V507.00 M70.96,501.00 H76.16 M70.96,507.00 H76.16" stroke="#a8d470" stroke-width="1.1" fill="none"/>
<path d="M79.93,495.60 V511.60 M77.33,495.60 H82.53 M77.33,511.60 H82.53" stroke="#a8d470" stroke-width="1.1" fill="none"/>
<path d="M86.29,499.20 V511.00 M83.69,499.20 H88.89 M83.69,511.00 H88.89" stroke="#a8d470" stroke-width="1.1" fill="none"/>
<path d="M118.11,518.20 V526.40 M115.51,518.20 H120.71 M115.51,526.40 H120.71" stroke="#a8d470" stroke-width="1.1" fill="none"/>
<path d="M207.21,536.00 V542.20 M204.61,536.00 H209.81 M204.61,542.20 H209.81" stroke="#a8d470" stroke-width="1.1" fill="none"/>
<path d="M73.56,500.80 L76.76,504.00 L73.56,507.20 L70.36,504.00Z" fill="#a8d470"/>
<path d="M79.93,500.40 L83.13,503.60 L79.93,506.80 L76.73,503.60Z" fill="#a8d470"/>
<path d="M86.29,501.90 L89.49,505.10 L86.29,508.30 L83.09,505.10Z" fill="#a8d470"/>
<path d="M118.11,519.10 L121.31,522.30 L118.11,525.50 L114.91,522.30Z" fill="#a8d470"/>
<path d="M207.21,535.90 L210.41,539.10 L207.21,542.30 L204.01,539.10Z" fill="#a8d470"/>
<path d="M73.56,500.40 L79.93,503.00 L86.29,511.60 L118.11,535.00 L207.21,557.10" fill="none" stroke="#7ecfc3" stroke-width="1.2"/>
<path d="M73.56,497.70 V503.10 M70.96,497.70 H76.16 M70.96,503.10 H76.16" stroke="#7ecfc3" stroke-width="1.1" fill="none"/>
<path d="M79.93,500.00 V506.00 M77.33,500.00 H82.53 M77.33,506.00 H82.53" stroke="#7ecfc3" stroke-width="1.1" fill="none"/>
<path d="M86.29,508.60 V514.60 M83.69,508.60 H88.89 M83.69,514.60 H88.89" stroke="#7ecfc3" stroke-width="1.1" fill="none"/>
<path d="M118.11,532.50 V537.50 M115.51,532.50 H120.71 M115.51,537.50 H120.71" stroke="#7ecfc3" stroke-width="1.1" fill="none"/>
<path d="M207.21,555.10 V559.10 M204.61,555.10 H209.81 M204.61,559.10 H209.81" stroke="#7ecfc3" stroke-width="1.1" fill="none"/>
<path d="M73.56,503.60 L76.56,498.20 L70.56,498.20Z" fill="#7ecfc3"/>
<path d="M79.93,506.20 L82.93,500.80 L76.93,500.80Z" fill="#7ecfc3"/>
<path d="M86.29,514.80 L89.29,509.40 L83.29,509.40Z" fill="#7ecfc3"/>
<path d="M118.11,538.20 L121.11,532.80 L115.11,532.80Z" fill="#7ecfc3"/>
<path d="M207.21,560.30 L210.21,554.90 L204.21,554.90Z" fill="#7ecfc3"/>
<path d="M73.56,489.00 L79.93,499.20 L86.29,515.80 L118.11,542.80 L207.21,560.10" fill="none" stroke="#f5bcd5" stroke-width="1.2"/>
<path d="M73.56,485.00 V493.00 M70.96,485.00 H76.16 M70.96,493.00 H76.16" stroke="#f5bcd5" stroke-width="1.1" fill="none"/>
<path d="M79.93,490.40 V508.00 M77.33,490.40 H82.53 M77.33,508.00 H82.53" stroke="#f5bcd5" stroke-width="1.1" fill="none"/>
<path d="M86.29,509.80 V521.80 M83.69,509.80 H88.89 M83.69,521.80 H88.89" stroke="#f5bcd5" stroke-width="1.1" fill="none"/>
<path d="M118.11,538.80 V546.80 M115.51,538.80 H120.71 M115.51,546.80 H120.71" stroke="#f5bcd5" stroke-width="1.1" fill="none"/>
<path d="M207.21,559.10 V561.10 M204.61,559.10 H209.81 M204.61,561.10 H209.81" stroke="#f5bcd5" stroke-width="1.1" fill="none"/>
<path d="M73.56,485.80 L76.56,491.20 L70.56,491.20Z" fill="#f5bcd5"/>
<path d="M79.93,496.00 L82.93,501.40 L76.93,501.40Z" fill="#f5bcd5"/>
<path d="M86.29,512.60 L89.29,518.00 L83.29,518.00Z" fill="#f5bcd5"/>
<path d="M118.11,539.60 L121.11,545.00 L115.11,545.00Z" fill="#f5bcd5"/>
<path d="M207.21,556.90 L210.21,562.30 L204.21,562.30Z" fill="#f5bcd5"/>
<path d="M73.56,479.80 L79.93,480.50 L86.29,484.50 L118.11,490.20 L207.21,500.30" fill="none" stroke="#6fa8d3" stroke-width="1.2"/>
<path d="M73.56,477.80 V481.80 M70.96,477.80 H76.16 M70.96,481.80 H76.16" stroke="#6fa8d3" stroke-width="1.1" fill="none"/>
<path d="M79.93,476.20 V484.80 M77.33,476.20 H82.53 M77.33,484.80 H82.53" stroke="#6fa8d3" stroke-width="1.1" fill="none"/>
<path d="M86.29,483.00 V486.00 M83.69,483.00 H88.89 M83.69,486.00 H88.89" stroke="#6fa8d3" stroke-width="1.1" fill="none"/>
<path d="M118.11,487.70 V492.70 M115.51,487.70 H120.71 M115.51,492.70 H120.71" stroke="#6fa8d3" stroke-width="1.1" fill="none"/>
<path d="M207.21,494.80 V505.80 M204.61,494.80 H209.81 M204.61,505.80 H209.81" stroke="#6fa8d3" stroke-width="1.1" fill="none"/>
<rect x="70.91" y="477.15" width="5.30" height="5.30" fill="#6fa8d3"/>
<rect x="77.28" y="477.85" width="5.30" height="5.30" fill="#6fa8d3"/>
<rect x="83.64" y="481.85" width="5.30" height="5.30" fill="#6fa8d3"/>
<rect x="115.46" y="487.55" width="5.30" height="5.30" fill="#6fa8d3"/>
<rect x="204.56" y="497.65" width="5.30" height="5.30" fill="#6fa8d3"/>
<path d="M73.56,491.20 L79.93,506.90 L86.29,525.80 L118.11,548.90 L207.21,560.60" fill="none" stroke="#b8b0dc" stroke-width="1.2"/>
<path d="M73.56,485.70 V496.70 M70.96,485.70 H76.16 M70.96,496.70 H76.16" stroke="#b8b0dc" stroke-width="1.1" fill="none"/>
<path d="M79.93,500.90 V512.90 M77.33,500.90 H82.53 M77.33,512.90 H82.53" stroke="#b8b0dc" stroke-width="1.1" fill="none"/>
<path d="M86.29,520.50 V531.10 M83.69,520.50 H88.89 M83.69,531.10 H88.89" stroke="#b8b0dc" stroke-width="1.1" fill="none"/>
<path d="M118.11,545.40 V552.40 M115.51,545.40 H120.71 M115.51,552.40 H120.71" stroke="#b8b0dc" stroke-width="1.1" fill="none"/>
<path d="M207.21,559.10 V562.10 M204.61,559.10 H209.81 M204.61,562.10 H209.81" stroke="#b8b0dc" stroke-width="1.1" fill="none"/>
<circle cx="73.56" cy="491.20" r="2.70" fill="#b8b0dc"/>
<circle cx="79.93" cy="506.90" r="2.70" fill="#b8b0dc"/>
<circle cx="86.29" cy="525.80" r="2.70" fill="#b8b0dc"/>
<circle cx="118.11" cy="548.90" r="2.70" fill="#b8b0dc"/>
<circle cx="207.21" cy="560.60" r="2.70" fill="#b8b0dc"/>
<path d="M67.20,456.30 V563.70" stroke="#262626" stroke-width="1.3" fill="none"/>
<path d="M66.60,563.10 H226.90" stroke="#262626" stroke-width="1.3" fill="none"/>
<path d="M62.40,563.10 H67.20" stroke="#262626" stroke-width="1.3"/>
<text transform="translate(59.90,567.00) scale(1,1.0)" font-size="10" text-anchor="end" font-weight="normal" fill="#141414" stroke="#141414" stroke-width="0.18">0</text>
<path d="M62.40,541.74 H67.20" stroke="#262626" stroke-width="1.3"/>
<text transform="translate(59.90,545.64) scale(1,1.0)" font-size="10" text-anchor="end" font-weight="normal" fill="#141414" stroke="#141414" stroke-width="0.18">1000</text>
<path d="M62.40,520.38 H67.20" stroke="#262626" stroke-width="1.3"/>
<text transform="translate(59.90,524.28) scale(1,1.0)" font-size="10" text-anchor="end" font-weight="normal" fill="#141414" stroke="#141414" stroke-width="0.18">2000</text>
<path d="M62.40,499.02 H67.20" stroke="#262626" stroke-width="1.3"/>
<text transform="translate(59.90,502.92) scale(1,1.0)" font-size="10" text-anchor="end" font-weight="normal" fill="#141414" stroke="#141414" stroke-width="0.18">3000</text>
<path d="M62.40,477.66 H67.20" stroke="#262626" stroke-width="1.3"/>
<text transform="translate(59.90,481.56) scale(1,1.0)" font-size="10" text-anchor="end" font-weight="normal" fill="#141414" stroke="#141414" stroke-width="0.18">4000</text>
<path d="M62.40,456.30 H67.20" stroke="#262626" stroke-width="1.3"/>
<text transform="translate(59.90,460.20) scale(1,1.0)" font-size="10" text-anchor="end" font-weight="normal" fill="#141414" stroke="#141414" stroke-width="0.18">5000</text>
<path d="M67.20,563.10 V567.90" stroke="#262626" stroke-width="1.3"/>
<text transform="translate(67.20,578.10) scale(1,1.0)" font-size="10" text-anchor="middle" font-weight="normal" fill="#141414" stroke="#141414" stroke-width="0.18">0</text>
<path d="M99.02,563.10 V567.90" stroke="#262626" stroke-width="1.3"/>
<text transform="translate(99.02,578.10) scale(1,1.0)" font-size="10" text-anchor="middle" font-weight="normal" fill="#141414" stroke="#141414" stroke-width="0.18">5</text>
<path d="M130.84,563.10 V567.90" stroke="#262626" stroke-width="1.3"/>
<text transform="translate(130.84,578.10) scale(1,1.0)" font-size="10" text-anchor="middle" font-weight="normal" fill="#141414" stroke="#141414" stroke-width="0.18">10</text>
<path d="M162.66,563.10 V567.90" stroke="#262626" stroke-width="1.3"/>
<text transform="translate(162.66,578.10) scale(1,1.0)" font-size="10" text-anchor="middle" font-weight="normal" fill="#141414" stroke="#141414" stroke-width="0.18">15</text>
<path d="M194.48,563.10 V567.90" stroke="#262626" stroke-width="1.3"/>
<text transform="translate(194.48,578.10) scale(1,1.0)" font-size="10" text-anchor="middle" font-weight="normal" fill="#141414" stroke="#141414" stroke-width="0.18">20</text>
<path d="M226.30,563.10 V567.90" stroke="#262626" stroke-width="1.3"/>
<text transform="translate(226.30,578.10) scale(1,1.0)" font-size="10" text-anchor="middle" font-weight="normal" fill="#141414" stroke="#141414" stroke-width="0.18">25</text>
<text transform="translate(148.50,591.00) scale(1,1.0)" font-size="10" text-anchor="middle" font-weight="normal" fill="#141414" stroke="#141414" stroke-width="0.18">Time (h)</text>
<text transform="translate(153.30,448.50) scale(1,1.0)" font-size="10" text-anchor="middle" font-weight="normal" fill="#141414" stroke="#141414" stroke-width="0.18">FcγRIIb-/-</text>
<text transform="translate(15.90,513.90) rotate(-90) scale(1,1.0)" font-size="10" text-anchor="middle" fill="#141414" stroke="#141414" stroke-width="0.18">Total serum IgE</text>
<text transform="translate(27.50,513.90) rotate(-90) scale(1,1.0)" font-size="10" text-anchor="middle" fill="#141414" stroke="#141414" stroke-width="0.18">concentration (ng/mL)</text>
<path d="M229.80,463.70 H242.00" stroke="#b8b0dc" stroke-width="1.3"/>
<circle cx="235.90" cy="463.70" r="2.56" fill="#b8b0dc"/>
<text transform="translate(248.20,467.30) scale(1,1.0)" font-size="10" text-anchor="start" font-weight="normal" fill="#141414" stroke="#141414" stroke-width="0.18">Only IgE</text>
<path d="M229.80,478.00 H242.00" stroke="#6fa8d3" stroke-width="1.3"/>
<rect x="233.38" y="475.48" width="5.03" height="5.03" fill="#6fa8d3"/>
<text transform="translate(248.20,481.60) scale(1,1.0)" font-size="10" text-anchor="start" font-weight="normal" fill="#141414" stroke="#141414" stroke-width="0.18">Omalizumab</text>
<path d="M229.80,491.60 H242.00" stroke="#f5bcd5" stroke-width="1.3"/>
<path d="M235.90,488.56 L238.75,493.69 L233.05,493.69Z" fill="#f5bcd5"/>
<text transform="translate(248.20,495.20) scale(1,1.0)" font-size="10" text-anchor="start" font-weight="normal" fill="#141414" stroke="#141414" stroke-width="0.18">NK-2-12</text>
<path d="M229.80,505.50 H242.00" stroke="#7ecfc3" stroke-width="1.3"/>
<path d="M235.90,508.54 L238.75,503.41 L233.05,503.41Z" fill="#7ecfc3"/>
<text transform="translate(248.20,509.10) scale(1,1.0)" font-size="10" text-anchor="start" font-weight="normal" fill="#141414" stroke="#141414" stroke-width="0.18">NK-2-12-SK3</text>
<path d="M229.80,519.70 H242.00" stroke="#a8d470" stroke-width="1.3"/>
<path d="M235.90,516.66 L238.94,519.70 L235.90,522.74 L232.86,519.70Z" fill="#a8d470"/>
<text transform="translate(248.20,523.30) scale(1,1.0)" font-size="10" text-anchor="start" font-weight="normal" fill="#141414" stroke="#141414" stroke-width="0.18">Omalizumab-SK3</text>
<path d="M72.25,470.60 L72.79,472.01 L74.29,472.09 L73.12,473.03 L73.51,474.49 L72.25,473.67 L70.99,474.49 L71.38,473.03 L70.21,472.09 L71.71,472.01Z" fill="#111"/>
<path d="M76.15,470.60 L76.69,472.01 L78.19,472.09 L77.02,473.03 L77.41,474.49 L76.15,473.67 L74.89,474.49 L75.28,473.03 L74.11,472.09 L75.61,472.01Z" fill="#111"/>
<path d="M79.25,469.00 L79.79,470.41 L81.29,470.49 L80.12,471.43 L80.51,472.89 L79.25,472.07 L77.99,472.89 L78.38,471.43 L77.21,470.49 L78.71,470.41Z" fill="#111"/>
<path d="M83.15,469.00 L83.69,470.41 L85.19,470.49 L84.02,471.43 L84.41,472.89 L83.15,472.07 L81.89,472.89 L82.28,471.43 L81.11,470.49 L82.61,470.41Z" fill="#111"/>
<path d="M91.35,479.40 L91.89,480.81 L93.39,480.89 L92.22,481.83 L92.61,483.29 L91.35,482.47 L90.09,483.29 L90.48,481.83 L89.31,480.89 L90.81,480.81Z" fill="#111"/>
<path d="M95.25,479.40 L95.79,480.81 L97.29,480.89 L96.12,481.83 L96.51,483.29 L95.25,482.47 L93.99,483.29 L94.38,481.83 L93.21,480.89 L94.71,480.81Z" fill="#111"/>
<path d="M99.15,479.40 L99.69,480.81 L101.19,480.89 L100.02,481.83 L100.41,483.29 L99.15,482.47 L97.89,483.29 L98.28,481.83 L97.11,480.89 L98.61,480.81Z" fill="#111"/>
<path d="M123.85,484.30 L124.39,485.71 L125.89,485.79 L124.72,486.73 L125.11,488.19 L123.85,487.37 L122.59,488.19 L122.98,486.73 L121.81,485.79 L123.31,485.71Z" fill="#111"/>
<path d="M127.75,484.30 L128.29,485.71 L129.79,485.79 L128.62,486.73 L129.01,488.19 L127.75,487.37 L126.49,488.19 L126.88,486.73 L125.71,485.79 L127.21,485.71Z" fill="#111"/>
<path d="M131.65,484.30 L132.19,485.71 L133.69,485.79 L132.52,486.73 L132.91,488.19 L131.65,487.37 L130.39,488.19 L130.78,486.73 L129.61,485.79 L131.11,485.71Z" fill="#111"/>
<path d="M135.55,484.30 L136.09,485.71 L137.59,485.79 L136.42,486.73 L136.81,488.19 L135.55,487.37 L134.29,488.19 L134.68,486.73 L133.51,485.79 L135.01,485.71Z" fill="#111"/>
<path d="M213.15,496.50 L213.69,497.91 L215.19,497.99 L214.02,498.93 L214.41,500.39 L213.15,499.57 L211.89,500.39 L212.28,498.93 L211.11,497.99 L212.61,497.91Z" fill="#111"/>
<path d="M217.05,496.50 L217.59,497.91 L219.09,497.99 L217.92,498.93 L218.31,500.39 L217.05,499.57 L215.79,500.39 L216.18,498.93 L215.01,497.99 L216.51,497.91Z" fill="#111"/>
<path d="M220.95,496.50 L221.49,497.91 L222.99,497.99 L221.82,498.93 L222.21,500.39 L220.95,499.57 L219.69,500.39 L220.08,498.93 L218.91,497.99 L220.41,497.91Z" fill="#111"/>
<path d="M224.85,496.50 L225.39,497.91 L226.89,497.99 L225.72,498.93 L226.11,500.39 L224.85,499.57 L223.59,500.39 L223.98,498.93 L222.81,497.99 L224.31,497.91Z" fill="#111"/>
<path d="M213.75,535.80 L214.29,537.21 L215.79,537.29 L214.62,538.23 L215.01,539.69 L213.75,538.87 L212.49,539.69 L212.88,538.23 L211.71,537.29 L213.21,537.21Z" fill="#111"/>
<text transform="translate(3.00,436.90) scale(1,1.0)" font-size="11.5" text-anchor="start" font-weight="bold" fill="#000" >f</text>
<path d="M430.34,491.00 L436.69,504.20 L443.03,518.60 L474.75,547.70 L563.57,560.00" fill="none" stroke="#f7a95e" stroke-width="1.2"/>
<path d="M430.34,490.00 V492.00 M427.74,490.00 H432.94 M427.74,492.00 H432.94" stroke="#f7a95e" stroke-width="1.1" fill="none"/>
<path d="M436.69,502.20 V506.20 M434.09,502.20 H439.29 M434.09,506.20 H439.29" stroke="#f7a95e" stroke-width="1.1" fill="none"/>
<path d="M443.03,516.60 V520.60 M440.43,516.60 H445.63 M440.43,520.60 H445.63" stroke="#f7a95e" stroke-width="1.1" fill="none"/>
<path d="M474.75,545.70 V549.70 M472.15,545.70 H477.35 M472.15,549.70 H477.35" stroke="#f7a95e" stroke-width="1.1" fill="none"/>
<path d="M430.34,487.80 L433.54,491.00 L430.34,494.20 L427.14,491.00Z" fill="#f7a95e"/>
<path d="M436.69,501.00 L439.89,504.20 L436.69,507.40 L433.49,504.20Z" fill="#f7a95e"/>
<path d="M443.03,515.40 L446.23,518.60 L443.03,521.80 L439.83,518.60Z" fill="#f7a95e"/>
<path d="M474.75,544.50 L477.95,547.70 L474.75,550.90 L471.55,547.70Z" fill="#f7a95e"/>
<path d="M563.57,556.80 L566.77,560.00 L563.57,563.20 L560.37,560.00Z" fill="#f7a95e"/>
<path d="M430.34,483.60 L436.69,491.30 L443.03,499.40 L474.75,532.90 L563.57,555.40" fill="none" stroke="#ef6d66" stroke-width="1.2"/>
<path d="M430.34,481.60 V485.60 M427.74,481.60 H432.94 M427.74,485.60 H432.94" stroke="#ef6d66" stroke-width="1.1" fill="none"/>
<path d="M436.69,488.30 V494.30 M434.09,488.30 H439.29 M434.09,494.30 H439.29" stroke="#ef6d66" stroke-width="1.1" fill="none"/>
<path d="M443.03,497.40 V501.40 M440.43,497.40 H445.63 M440.43,501.40 H445.63" stroke="#ef6d66" stroke-width="1.1" fill="none"/>
<path d="M474.75,529.90 V535.90 M472.15,529.90 H477.35 M472.15,535.90 H477.35" stroke="#ef6d66" stroke-width="1.1" fill="none"/>
<path d="M563.57,553.40 V557.40 M560.97,553.40 H566.17 M560.97,557.40 H566.17" stroke="#ef6d66" stroke-width="1.1" fill="none"/>
<path d="M430.34,486.80 L433.34,481.40 L427.34,481.40Z" fill="#ef6d66"/>
<path d="M436.69,494.50 L439.69,489.10 L433.69,489.10Z" fill="#ef6d66"/>
<path d="M443.03,502.60 L446.03,497.20 L440.03,497.20Z" fill="#ef6d66"/>
<path d="M474.75,536.10 L477.75,530.70 L471.75,530.70Z" fill="#ef6d66"/>
<path d="M563.57,558.60 L566.57,553.20 L560.57,553.20Z" fill="#ef6d66"/>
<path d="M430.34,486.00 L436.69,497.70 L443.03,510.10 L474.75,542.60 L563.57,560.00" fill="none" stroke="#f5bcd5" stroke-width="1.2"/>
<path d="M430.34,483.00 V489.00 M427.74,483.00 H432.94 M427.74,489.00 H432.94" stroke="#f5bcd5" stroke-width="1.1" fill="none"/>
<path d="M436.69,491.20 V504.20 M434.09,491.20 H439.29 M434.09,504.20 H439.29" stroke="#f5bcd5" stroke-width="1.1" fill="none"/>
<path d="M443.03,505.10 V515.10 M440.43,505.10 H445.63 M440.43,515.10 H445.63" stroke="#f5bcd5" stroke-width="1.1" fill="none"/>
<path d="M474.75,538.60 V546.60 M472.15,538.60 H477.35 M472.15,546.60 H477.35" stroke="#f5bcd5" stroke-width="1.1" fill="none"/>
<path d="M563.57,559.00 V561.00 M560.97,559.00 H566.17 M560.97,561.00 H566.17" stroke="#f5bcd5" stroke-width="1.1" fill="none"/>
<path d="M430.34,482.80 L433.34,488.20 L427.34,488.20Z" fill="#f5bcd5"/>
<path d="M436.69,494.50 L439.69,499.90 L433.69,499.90Z" fill="#f5bcd5"/>
<path d="M443.03,506.90 L446.03,512.30 L440.03,512.30Z" fill="#f5bcd5"/>
<path d="M474.75,539.40 L477.75,544.80 L471.75,544.80Z" fill="#f5bcd5"/>
<path d="M563.57,556.80 L566.57,562.20 L560.57,562.20Z" fill="#f5bcd5"/>
<path d="M430.34,480.00 L436.69,480.00 L443.03,484.20 L474.75,489.80 L563.57,500.20" fill="none" stroke="#6fa8d3" stroke-width="1.2"/>
<path d="M430.34,478.00 V482.00 M427.74,478.00 H432.94 M427.74,482.00 H432.94" stroke="#6fa8d3" stroke-width="1.1" fill="none"/>
<path d="M436.69,475.90 V484.10 M434.09,475.90 H439.29 M434.09,484.10 H439.29" stroke="#6fa8d3" stroke-width="1.1" fill="none"/>
<path d="M443.03,482.70 V485.70 M440.43,482.70 H445.63 M440.43,485.70 H445.63" stroke="#6fa8d3" stroke-width="1.1" fill="none"/>
<path d="M474.75,487.80 V491.80 M472.15,487.80 H477.35 M472.15,491.80 H477.35" stroke="#6fa8d3" stroke-width="1.1" fill="none"/>
<path d="M563.57,494.60 V505.80 M560.97,494.60 H566.17 M560.97,505.80 H566.17" stroke="#6fa8d3" stroke-width="1.1" fill="none"/>
<rect x="427.69" y="477.35" width="5.30" height="5.30" fill="#6fa8d3"/>
<rect x="434.04" y="477.35" width="5.30" height="5.30" fill="#6fa8d3"/>
<rect x="440.38" y="481.55" width="5.30" height="5.30" fill="#6fa8d3"/>
<rect x="472.10" y="487.15" width="5.30" height="5.30" fill="#6fa8d3"/>
<rect x="560.92" y="497.55" width="5.30" height="5.30" fill="#6fa8d3"/>
<path d="M430.34,491.20 L436.69,507.80 L443.03,524.90 L474.75,548.70 L563.57,560.30" fill="none" stroke="#b8b0dc" stroke-width="1.2"/>
<path d="M430.34,487.70 V494.70 M427.74,487.70 H432.94 M427.74,494.70 H432.94" stroke="#b8b0dc" stroke-width="1.1" fill="none"/>
<path d="M436.69,503.80 V511.80 M434.09,503.80 H439.29 M434.09,511.80 H439.29" stroke="#b8b0dc" stroke-width="1.1" fill="none"/>
<path d="M443.03,520.90 V528.90 M440.43,520.90 H445.63 M440.43,528.90 H445.63" stroke="#b8b0dc" stroke-width="1.1" fill="none"/>
<path d="M474.75,545.70 V551.70 M472.15,545.70 H477.35 M472.15,551.70 H477.35" stroke="#b8b0dc" stroke-width="1.1" fill="none"/>
<path d="M563.57,559.30 V561.30 M560.97,559.30 H566.17 M560.97,561.30 H566.17" stroke="#b8b0dc" stroke-width="1.1" fill="none"/>
<circle cx="430.34" cy="491.20" r="2.70" fill="#b8b0dc"/>
<circle cx="436.69" cy="507.80" r="2.70" fill="#b8b0dc"/>
<circle cx="443.03" cy="524.90" r="2.70" fill="#b8b0dc"/>
<circle cx="474.75" cy="548.70" r="2.70" fill="#b8b0dc"/>
<circle cx="563.57" cy="560.30" r="2.70" fill="#b8b0dc"/>
<path d="M423.50,456.20 V563.70" stroke="#262626" stroke-width="1.3" fill="none"/>
<path d="M422.90,563.10 H583.20" stroke="#262626" stroke-width="1.3" fill="none"/>
<path d="M418.70,562.80 H423.50" stroke="#262626" stroke-width="1.3"/>
<text transform="translate(416.20,566.70) scale(1,1.0)" font-size="10" text-anchor="end" font-weight="normal" fill="#141414" stroke="#141414" stroke-width="0.18">0</text>
<path d="M418.70,541.48 H423.50" stroke="#262626" stroke-width="1.3"/>
<text transform="translate(416.20,545.38) scale(1,1.0)" font-size="10" text-anchor="end" font-weight="normal" fill="#141414" stroke="#141414" stroke-width="0.18">1000</text>
<path d="M418.70,520.16 H423.50" stroke="#262626" stroke-width="1.3"/>
<text transform="translate(416.20,524.06) scale(1,1.0)" font-size="10" text-anchor="end" font-weight="normal" fill="#141414" stroke="#141414" stroke-width="0.18">2000</text>
<path d="M418.70,498.84 H423.50" stroke="#262626" stroke-width="1.3"/>
<text transform="translate(416.20,502.74) scale(1,1.0)" font-size="10" text-anchor="end" font-weight="normal" fill="#141414" stroke="#141414" stroke-width="0.18">3000</text>
<path d="M418.70,477.52 H423.50" stroke="#262626" stroke-width="1.3"/>
<text transform="translate(416.20,481.42) scale(1,1.0)" font-size="10" text-anchor="end" font-weight="normal" fill="#141414" stroke="#141414" stroke-width="0.18">4000</text>
<path d="M418.70,456.20 H423.50" stroke="#262626" stroke-width="1.3"/>
<text transform="translate(416.20,460.10) scale(1,1.0)" font-size="10" text-anchor="end" font-weight="normal" fill="#141414" stroke="#141414" stroke-width="0.18">5000</text>
<path d="M424.00,563.10 V567.90" stroke="#262626" stroke-width="1.3"/>
<text transform="translate(424.00,577.70) scale(1,1.0)" font-size="10" text-anchor="middle" font-weight="normal" fill="#141414" stroke="#141414" stroke-width="0.18">0</text>
<path d="M455.72,563.10 V567.90" stroke="#262626" stroke-width="1.3"/>
<text transform="translate(455.72,577.70) scale(1,1.0)" font-size="10" text-anchor="middle" font-weight="normal" fill="#141414" stroke="#141414" stroke-width="0.18">5</text>
<path d="M487.44,563.10 V567.90" stroke="#262626" stroke-width="1.3"/>
<text transform="translate(487.44,577.70) scale(1,1.0)" font-size="10" text-anchor="middle" font-weight="normal" fill="#141414" stroke="#141414" stroke-width="0.18">10</text>
<path d="M519.16,563.10 V567.90" stroke="#262626" stroke-width="1.3"/>
<text transform="translate(519.16,577.70) scale(1,1.0)" font-size="10" text-anchor="middle" font-weight="normal" fill="#141414" stroke="#141414" stroke-width="0.18">15</text>
<path d="M550.88,563.10 V567.90" stroke="#262626" stroke-width="1.3"/>
<text transform="translate(550.88,577.70) scale(1,1.0)" font-size="10" text-anchor="middle" font-weight="normal" fill="#141414" stroke="#141414" stroke-width="0.18">20</text>
<path d="M582.60,563.10 V567.90" stroke="#262626" stroke-width="1.3"/>
<text transform="translate(582.60,577.70) scale(1,1.0)" font-size="10" text-anchor="middle" font-weight="normal" fill="#141414" stroke="#141414" stroke-width="0.18">25</text>
<text transform="translate(505.00,590.20) scale(1,1.0)" font-size="10" text-anchor="middle" font-weight="normal" fill="#141414" stroke="#141414" stroke-width="0.18">Time (h)</text>
<text transform="translate(511.00,449.10) scale(1,1.0)" font-size="10" text-anchor="middle" font-weight="normal" fill="#141414" stroke="#141414" stroke-width="0.18">FcγRIIb-/-</text>
<text transform="translate(373.50,516.60) rotate(-90) scale(1,1.0)" font-size="10" text-anchor="middle" fill="#141414" stroke="#141414" stroke-width="0.18">Total serum IgE</text>
<text transform="translate(386.30,515.60) rotate(-90) scale(1,1.0)" font-size="10" text-anchor="middle" fill="#141414" stroke="#141414" stroke-width="0.18">concentration (ng/mL)</text>
<path d="M586.50,463.80 H598.50" stroke="#b8b0dc" stroke-width="1.3"/>
<circle cx="592.50" cy="463.80" r="2.56" fill="#b8b0dc"/>
<text transform="translate(604.70,467.40) scale(1,1.0)" font-size="10" text-anchor="start" font-weight="normal" fill="#141414" stroke="#141414" stroke-width="0.18">Only IgE</text>
<path d="M586.50,477.80 H598.50" stroke="#6fa8d3" stroke-width="1.3"/>
<rect x="589.98" y="475.28" width="5.03" height="5.03" fill="#6fa8d3"/>
<text transform="translate(604.70,481.40) scale(1,1.0)" font-size="10" text-anchor="start" font-weight="normal" fill="#141414" stroke="#141414" stroke-width="0.18">Omalizumab</text>
<path d="M586.50,492.00 H598.50" stroke="#f5bcd5" stroke-width="1.3"/>
<path d="M592.50,488.96 L595.35,494.09 L589.65,494.09Z" fill="#f5bcd5"/>
<text transform="translate(604.70,495.60) scale(1,1.0)" font-size="10" text-anchor="start" font-weight="normal" fill="#141414" stroke="#141414" stroke-width="0.18">NK-2-12</text>
<path d="M586.50,505.80 H598.50" stroke="#ef6d66" stroke-width="1.3"/>
<path d="M592.50,508.84 L595.35,503.71 L589.65,503.71Z" fill="#ef6d66"/>
<text transform="translate(604.70,509.40) scale(1,1.0)" font-size="10" text-anchor="start" font-weight="normal" fill="#141414" stroke="#141414" stroke-width="0.18">NK-2-12-SK4</text>
<path d="M586.50,520.20 H598.50" stroke="#f7a95e" stroke-width="1.3"/>
<path d="M592.50,517.16 L595.54,520.20 L592.50,523.24 L589.46,520.20Z" fill="#f7a95e"/>
<text transform="translate(604.70,523.80) scale(1,1.0)" font-size="10" text-anchor="start" font-weight="normal" fill="#141414" stroke="#141414" stroke-width="0.18">Omalizumab-SK4</text>
<path d="M443.75,476.50 L444.29,477.91 L445.79,477.99 L444.62,478.93 L445.01,480.39 L443.75,479.57 L442.49,480.39 L442.88,478.93 L441.71,477.99 L443.21,477.91Z" fill="#111"/>
<path d="M435.75,509.60 L436.29,511.01 L437.79,511.09 L436.62,512.03 L437.01,513.49 L435.75,512.67 L434.49,513.49 L434.88,512.03 L433.71,511.09 L435.21,511.01Z" fill="#111"/>
<path d="M446.75,509.90 L447.29,511.31 L448.79,511.39 L447.62,512.33 L448.01,513.79 L446.75,512.97 L445.49,513.79 L445.88,512.33 L444.71,511.39 L446.21,511.31Z" fill="#111"/>
<path d="M447.95,517.30 L448.49,518.71 L449.99,518.79 L448.82,519.73 L449.21,521.19 L447.95,520.37 L446.69,521.19 L447.08,519.73 L445.91,518.79 L447.41,518.71Z" fill="#111"/>
<path d="M451.85,517.30 L452.39,518.71 L453.89,518.79 L452.72,519.73 L453.11,521.19 L451.85,520.37 L450.59,521.19 L450.98,519.73 L449.81,518.79 L451.31,518.71Z" fill="#111"/>
<path d="M436.75,527.30 L437.29,528.71 L438.79,528.79 L437.62,529.73 L438.01,531.19 L436.75,530.37 L435.49,531.19 L435.88,529.73 L434.71,528.79 L436.21,528.71Z" fill="#111"/>
<path d="M440.65,527.30 L441.19,528.71 L442.69,528.79 L441.52,529.73 L441.91,531.19 L440.65,530.37 L439.39,531.19 L439.78,529.73 L438.61,528.79 L440.11,528.71Z" fill="#111"/>
<path d="M444.55,527.30 L445.09,528.71 L446.59,528.79 L445.42,529.73 L445.81,531.19 L444.55,530.37 L443.29,531.19 L443.68,529.73 L442.51,528.79 L444.01,528.71Z" fill="#111"/>
<path d="M448.45,527.30 L448.99,528.71 L450.49,528.79 L449.32,529.73 L449.71,531.19 L448.45,530.37 L447.19,531.19 L447.58,529.73 L446.41,528.79 L447.91,528.71Z" fill="#111"/>
<path d="M479.75,485.10 L480.29,486.51 L481.79,486.59 L480.62,487.53 L481.01,488.99 L479.75,488.17 L478.49,488.99 L478.88,487.53 L477.71,486.59 L479.21,486.51Z" fill="#111"/>
<path d="M483.65,485.10 L484.19,486.51 L485.69,486.59 L484.52,487.53 L484.91,488.99 L483.65,488.17 L482.39,488.99 L482.78,487.53 L481.61,486.59 L483.11,486.51Z" fill="#111"/>
<path d="M487.55,485.10 L488.09,486.51 L489.59,486.59 L488.42,487.53 L488.81,488.99 L487.55,488.17 L486.29,488.99 L486.68,487.53 L485.51,486.59 L487.01,486.51Z" fill="#111"/>
<path d="M491.45,485.10 L491.99,486.51 L493.49,486.59 L492.32,487.53 L492.71,488.99 L491.45,488.17 L490.19,488.99 L490.58,487.53 L489.41,486.59 L490.91,486.51Z" fill="#111"/>
<path d="M568.45,497.30 L568.99,498.71 L570.49,498.79 L569.32,499.73 L569.71,501.19 L568.45,500.37 L567.19,501.19 L567.58,499.73 L566.41,498.79 L567.91,498.71Z" fill="#111"/>
<path d="M572.35,497.30 L572.89,498.71 L574.39,498.79 L573.22,499.73 L573.61,501.19 L572.35,500.37 L571.09,501.19 L571.48,499.73 L570.31,498.79 L571.81,498.71Z" fill="#111"/>
<path d="M576.25,497.30 L576.79,498.71 L578.29,498.79 L577.12,499.73 L577.51,501.19 L576.25,500.37 L574.99,501.19 L575.38,499.73 L574.21,498.79 L575.71,498.71Z" fill="#111"/>
<path d="M580.15,497.30 L580.69,498.71 L582.19,498.79 L581.02,499.73 L581.41,501.19 L580.15,500.37 L578.89,501.19 L579.28,499.73 L578.11,498.79 L579.61,498.71Z" fill="#111"/>
<path d="M478.95,537.60 L479.49,539.01 L480.99,539.09 L479.82,540.03 L480.21,541.49 L478.95,540.67 L477.69,541.49 L478.08,540.03 L476.91,539.09 L478.41,539.01Z" fill="#111"/>
<path d="M475.25,551.90 L475.79,553.31 L477.29,553.39 L476.12,554.33 L476.51,555.79 L475.25,554.97 L473.99,555.79 L474.38,554.33 L473.21,553.39 L474.71,553.31Z" fill="#111"/>
<text transform="translate(356.80,434.30) scale(1,1.0)" font-size="11.5" text-anchor="start" font-weight="bold" fill="#000" >g</text>
</g></svg></body></html>
